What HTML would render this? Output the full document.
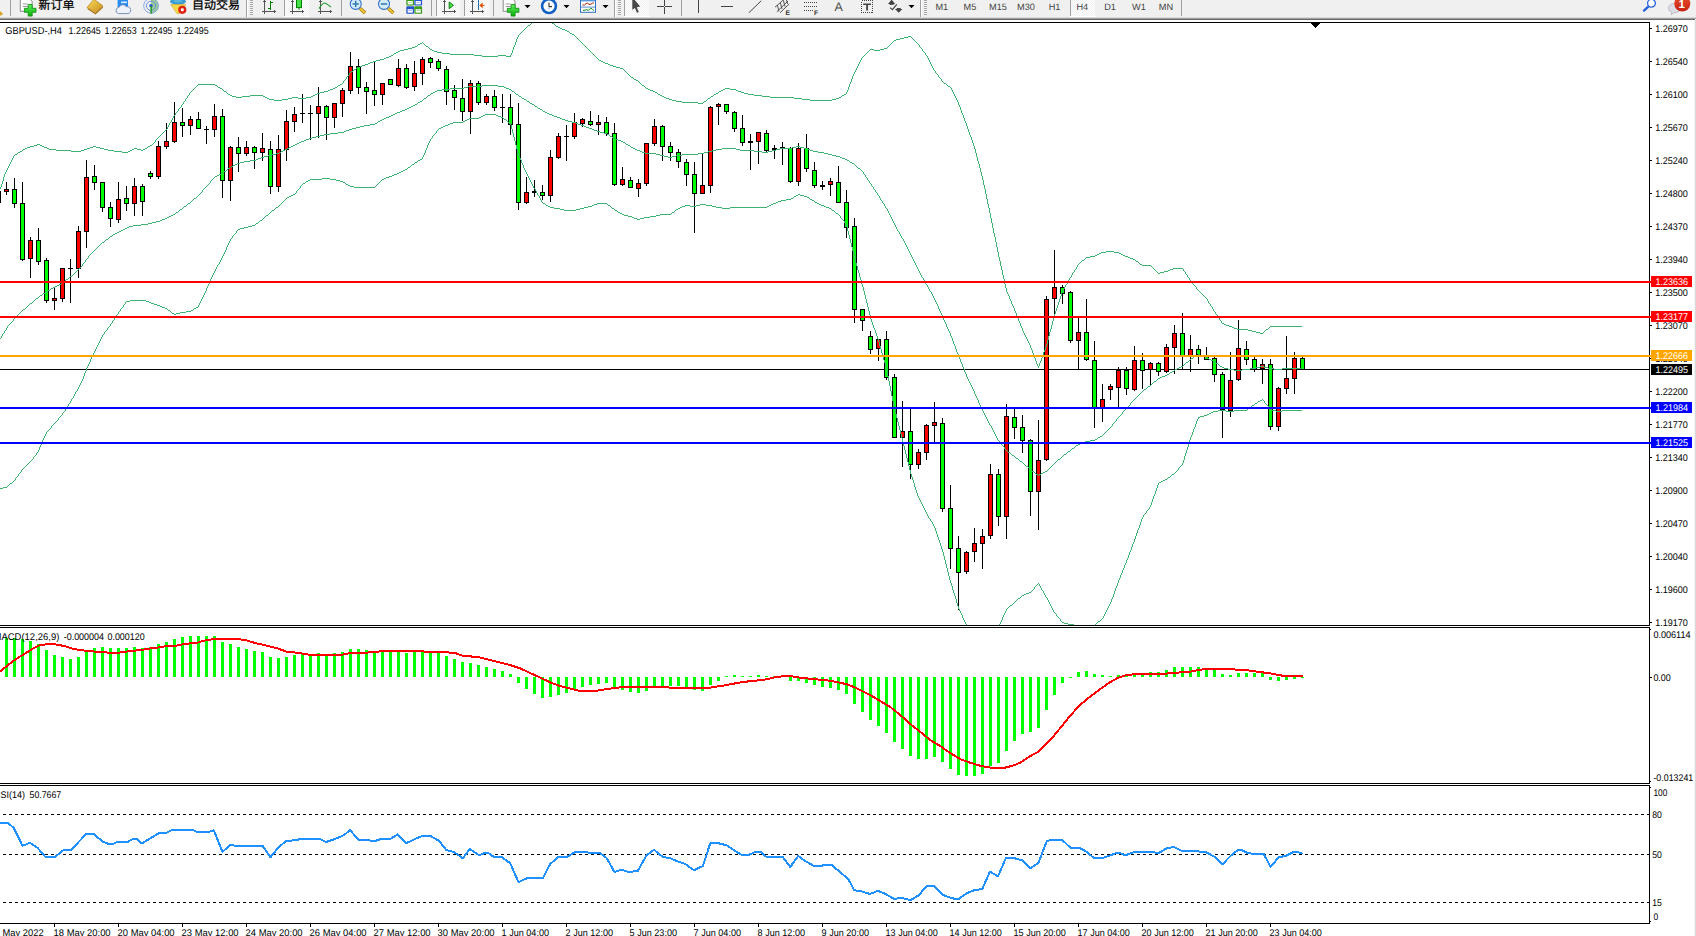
<!DOCTYPE html>
<html><head><meta charset="utf-8"><title>GBPUSD-,H4</title>
<style>
html,body{margin:0;padding:0;background:#fff;width:1696px;height:936px;overflow:hidden}
svg{display:block;position:absolute;left:0;top:0}
text{font-family:"Liberation Sans", "Noto Sans CJK SC", sans-serif;text-rendering:geometricPrecision}
</style></head><body>
<svg width="1696" height="936" viewBox="0 0 1696 936">
<rect x="0" y="0" width="1696" height="936" fill="#fff"/>
<g shape-rendering="crispEdges">
<rect x="0" y="22" width="1650" height="1" fill="#000"/>
<rect x="0" y="625" width="1650" height="1" fill="#000"/>
<rect x="0" y="627" width="1650" height="1" fill="#000"/>
<rect x="0" y="783" width="1650" height="1" fill="#000"/>
<rect x="0" y="785" width="1650" height="1" fill="#000"/>
<rect x="0" y="923" width="1650" height="1" fill="#000"/>
<rect x="1649" y="22" width="1" height="604" fill="#000"/>
<rect x="1649" y="627" width="1" height="157" fill="#000"/>
<rect x="1649" y="785" width="1" height="139" fill="#000"/>
<rect x="1695" y="20" width="1" height="916" fill="#d9d9d9"/>
<rect x="1694" y="20" width="1" height="916" fill="#f4f4f4"/>
</g>
<defs><clipPath id="cm"><rect x="0" y="23" width="1649" height="602"/></clipPath><clipPath id="cd"><rect x="0" y="628" width="1649" height="155"/></clipPath><clipPath id="cr"><rect x="0" y="786" width="1649" height="137"/></clipPath></defs>
<rect x="0" y="369" width="1649" height="1" fill="#000" shape-rendering="crispEdges"/>
<g shape-rendering="crispEdges" clip-path="url(#cm)">
<rect x="0" y="191" width="1" height="12" fill="#000"/>
<rect x="6" y="182" width="1" height="13" fill="#000"/>
<rect x="4" y="189" width="5" height="3" fill="#000"/>
<rect x="5" y="190" width="3" height="1" fill="#ff0000"/>
<rect x="14" y="178" width="1" height="30" fill="#000"/>
<rect x="12" y="189" width="5" height="15" fill="#000"/>
<rect x="13" y="190" width="3" height="13" fill="#00ff00"/>
<rect x="22" y="182" width="1" height="79" fill="#000"/>
<rect x="20" y="203" width="5" height="57" fill="#000"/>
<rect x="21" y="204" width="3" height="55" fill="#00ff00"/>
<rect x="30" y="237" width="1" height="41" fill="#000"/>
<rect x="28" y="240" width="5" height="19" fill="#000"/>
<rect x="29" y="241" width="3" height="17" fill="#ff0000"/>
<rect x="38" y="228" width="1" height="37" fill="#000"/>
<rect x="36" y="240" width="5" height="22" fill="#000"/>
<rect x="37" y="241" width="3" height="20" fill="#00ff00"/>
<rect x="46" y="258" width="1" height="45" fill="#000"/>
<rect x="44" y="260" width="5" height="41" fill="#000"/>
<rect x="45" y="261" width="3" height="39" fill="#00ff00"/>
<rect x="54" y="288" width="1" height="22" fill="#000"/>
<rect x="52" y="298" width="5" height="3" fill="#000"/>
<rect x="53" y="299" width="3" height="1" fill="#ff0000"/>
<rect x="62" y="268" width="1" height="34" fill="#000"/>
<rect x="60" y="268" width="5" height="31" fill="#000"/>
<rect x="61" y="269" width="3" height="29" fill="#ff0000"/>
<rect x="70" y="259" width="1" height="44" fill="#000"/>
<rect x="68" y="268" width="5" height="1" fill="#000"/>
<rect x="78" y="226" width="1" height="52" fill="#000"/>
<rect x="76" y="231" width="5" height="38" fill="#000"/>
<rect x="77" y="232" width="3" height="36" fill="#ff0000"/>
<rect x="86" y="160" width="1" height="88" fill="#000"/>
<rect x="84" y="177" width="5" height="55" fill="#000"/>
<rect x="85" y="178" width="3" height="53" fill="#ff0000"/>
<rect x="94" y="165" width="1" height="25" fill="#000"/>
<rect x="92" y="176" width="5" height="7" fill="#000"/>
<rect x="93" y="177" width="3" height="5" fill="#00ff00"/>
<rect x="102" y="182" width="1" height="30" fill="#000"/>
<rect x="100" y="182" width="5" height="26" fill="#000"/>
<rect x="101" y="183" width="3" height="24" fill="#00ff00"/>
<rect x="110" y="202" width="1" height="25" fill="#000"/>
<rect x="108" y="207" width="5" height="12" fill="#000"/>
<rect x="109" y="208" width="3" height="10" fill="#00ff00"/>
<rect x="118" y="182" width="1" height="41" fill="#000"/>
<rect x="116" y="199" width="5" height="21" fill="#000"/>
<rect x="117" y="200" width="3" height="19" fill="#ff0000"/>
<rect x="126" y="186" width="1" height="25" fill="#000"/>
<rect x="124" y="198" width="5" height="6" fill="#000"/>
<rect x="125" y="199" width="3" height="4" fill="#00ff00"/>
<rect x="134" y="178" width="1" height="38" fill="#000"/>
<rect x="132" y="186" width="5" height="18" fill="#000"/>
<rect x="133" y="187" width="3" height="16" fill="#ff0000"/>
<rect x="142" y="184" width="1" height="32" fill="#000"/>
<rect x="140" y="186" width="5" height="16" fill="#000"/>
<rect x="141" y="187" width="3" height="14" fill="#00ff00"/>
<rect x="150" y="171" width="1" height="8" fill="#000"/>
<rect x="148" y="173" width="5" height="4" fill="#000"/>
<rect x="149" y="174" width="3" height="2" fill="#00ff00"/>
<rect x="158" y="141" width="1" height="38" fill="#000"/>
<rect x="156" y="146" width="5" height="31" fill="#000"/>
<rect x="157" y="147" width="3" height="29" fill="#ff0000"/>
<rect x="166" y="123" width="1" height="26" fill="#000"/>
<rect x="164" y="141" width="5" height="6" fill="#000"/>
<rect x="165" y="142" width="3" height="4" fill="#ff0000"/>
<rect x="174" y="102" width="1" height="41" fill="#000"/>
<rect x="172" y="122" width="5" height="20" fill="#000"/>
<rect x="173" y="123" width="3" height="18" fill="#ff0000"/>
<rect x="182" y="108" width="1" height="29" fill="#000"/>
<rect x="180" y="122" width="5" height="4" fill="#000"/>
<rect x="181" y="123" width="3" height="2" fill="#00ff00"/>
<rect x="190" y="116" width="1" height="19" fill="#000"/>
<rect x="188" y="119" width="5" height="7" fill="#000"/>
<rect x="189" y="120" width="3" height="5" fill="#ff0000"/>
<rect x="198" y="112" width="1" height="17" fill="#000"/>
<rect x="196" y="119" width="5" height="10" fill="#000"/>
<rect x="197" y="120" width="3" height="8" fill="#00ff00"/>
<rect x="206" y="126" width="1" height="18" fill="#000"/>
<rect x="204" y="129" width="5" height="1" fill="#000"/>
<rect x="214" y="104" width="1" height="33" fill="#000"/>
<rect x="212" y="116" width="5" height="14" fill="#000"/>
<rect x="213" y="117" width="3" height="12" fill="#ff0000"/>
<rect x="222" y="109" width="1" height="89" fill="#000"/>
<rect x="220" y="116" width="5" height="65" fill="#000"/>
<rect x="221" y="117" width="3" height="63" fill="#00ff00"/>
<rect x="230" y="146" width="1" height="55" fill="#000"/>
<rect x="228" y="147" width="5" height="34" fill="#000"/>
<rect x="229" y="148" width="3" height="32" fill="#ff0000"/>
<rect x="238" y="137" width="1" height="35" fill="#000"/>
<rect x="236" y="147" width="5" height="7" fill="#000"/>
<rect x="237" y="148" width="3" height="5" fill="#00ff00"/>
<rect x="246" y="141" width="1" height="15" fill="#000"/>
<rect x="244" y="147" width="5" height="7" fill="#000"/>
<rect x="245" y="148" width="3" height="5" fill="#ff0000"/>
<rect x="254" y="146" width="1" height="23" fill="#000"/>
<rect x="252" y="147" width="5" height="6" fill="#000"/>
<rect x="253" y="148" width="3" height="4" fill="#00ff00"/>
<rect x="262" y="133" width="1" height="28" fill="#000"/>
<rect x="260" y="148" width="5" height="5" fill="#000"/>
<rect x="261" y="149" width="3" height="3" fill="#ff0000"/>
<rect x="270" y="141" width="1" height="53" fill="#000"/>
<rect x="268" y="149" width="5" height="38" fill="#000"/>
<rect x="269" y="150" width="3" height="36" fill="#00ff00"/>
<rect x="278" y="135" width="1" height="57" fill="#000"/>
<rect x="276" y="149" width="5" height="38" fill="#000"/>
<rect x="277" y="150" width="3" height="36" fill="#ff0000"/>
<rect x="286" y="110" width="1" height="51" fill="#000"/>
<rect x="284" y="121" width="5" height="29" fill="#000"/>
<rect x="285" y="122" width="3" height="27" fill="#ff0000"/>
<rect x="294" y="107" width="1" height="25" fill="#000"/>
<rect x="292" y="114" width="5" height="8" fill="#000"/>
<rect x="293" y="115" width="3" height="6" fill="#ff0000"/>
<rect x="302" y="94" width="1" height="29" fill="#000"/>
<rect x="300" y="113" width="5" height="1" fill="#000"/>
<rect x="310" y="105" width="1" height="35" fill="#000"/>
<rect x="308" y="113" width="5" height="1" fill="#000"/>
<rect x="318" y="87" width="1" height="51" fill="#000"/>
<rect x="316" y="106" width="5" height="8" fill="#000"/>
<rect x="317" y="107" width="3" height="6" fill="#ff0000"/>
<rect x="326" y="105" width="1" height="35" fill="#000"/>
<rect x="324" y="106" width="5" height="12" fill="#000"/>
<rect x="325" y="107" width="3" height="10" fill="#00ff00"/>
<rect x="334" y="103" width="1" height="25" fill="#000"/>
<rect x="332" y="103" width="5" height="15" fill="#000"/>
<rect x="333" y="104" width="3" height="13" fill="#ff0000"/>
<rect x="342" y="88" width="1" height="29" fill="#000"/>
<rect x="340" y="90" width="5" height="14" fill="#000"/>
<rect x="341" y="91" width="3" height="12" fill="#ff0000"/>
<rect x="350" y="52" width="1" height="42" fill="#000"/>
<rect x="348" y="66" width="5" height="25" fill="#000"/>
<rect x="349" y="67" width="3" height="23" fill="#ff0000"/>
<rect x="358" y="59" width="1" height="35" fill="#000"/>
<rect x="356" y="66" width="5" height="22" fill="#000"/>
<rect x="357" y="67" width="3" height="20" fill="#00ff00"/>
<rect x="366" y="82" width="1" height="32" fill="#000"/>
<rect x="364" y="87" width="5" height="5" fill="#000"/>
<rect x="365" y="88" width="3" height="3" fill="#00ff00"/>
<rect x="374" y="62" width="1" height="44" fill="#000"/>
<rect x="372" y="90" width="5" height="5" fill="#000"/>
<rect x="373" y="91" width="3" height="3" fill="#00ff00"/>
<rect x="382" y="83" width="1" height="22" fill="#000"/>
<rect x="380" y="83" width="5" height="12" fill="#000"/>
<rect x="381" y="84" width="3" height="10" fill="#ff0000"/>
<rect x="390" y="79" width="1" height="6" fill="#000"/>
<rect x="388" y="79" width="5" height="6" fill="#000"/>
<rect x="389" y="80" width="3" height="4" fill="#00ff00"/>
<rect x="398" y="59" width="1" height="28" fill="#000"/>
<rect x="396" y="68" width="5" height="18" fill="#000"/>
<rect x="397" y="69" width="3" height="16" fill="#ff0000"/>
<rect x="406" y="64" width="1" height="25" fill="#000"/>
<rect x="404" y="68" width="5" height="20" fill="#000"/>
<rect x="405" y="69" width="3" height="18" fill="#00ff00"/>
<rect x="414" y="61" width="1" height="30" fill="#000"/>
<rect x="412" y="73" width="5" height="14" fill="#000"/>
<rect x="413" y="74" width="3" height="12" fill="#ff0000"/>
<rect x="422" y="57" width="1" height="28" fill="#000"/>
<rect x="420" y="59" width="5" height="15" fill="#000"/>
<rect x="421" y="60" width="3" height="13" fill="#ff0000"/>
<rect x="430" y="57" width="1" height="11" fill="#000"/>
<rect x="428" y="58" width="5" height="5" fill="#000"/>
<rect x="429" y="59" width="3" height="3" fill="#00ff00"/>
<rect x="438" y="59" width="1" height="12" fill="#000"/>
<rect x="436" y="61" width="5" height="8" fill="#000"/>
<rect x="437" y="62" width="3" height="6" fill="#00ff00"/>
<rect x="446" y="66" width="1" height="39" fill="#000"/>
<rect x="444" y="69" width="5" height="23" fill="#000"/>
<rect x="445" y="70" width="3" height="21" fill="#00ff00"/>
<rect x="454" y="85" width="1" height="25" fill="#000"/>
<rect x="452" y="90" width="5" height="8" fill="#000"/>
<rect x="453" y="91" width="3" height="6" fill="#00ff00"/>
<rect x="462" y="79" width="1" height="42" fill="#000"/>
<rect x="460" y="98" width="5" height="14" fill="#000"/>
<rect x="461" y="99" width="3" height="12" fill="#00ff00"/>
<rect x="470" y="80" width="1" height="54" fill="#000"/>
<rect x="468" y="83" width="5" height="29" fill="#000"/>
<rect x="469" y="84" width="3" height="27" fill="#ff0000"/>
<rect x="478" y="81" width="1" height="24" fill="#000"/>
<rect x="476" y="83" width="5" height="20" fill="#000"/>
<rect x="477" y="84" width="3" height="18" fill="#00ff00"/>
<rect x="486" y="94" width="1" height="11" fill="#000"/>
<rect x="484" y="96" width="5" height="7" fill="#000"/>
<rect x="485" y="97" width="3" height="5" fill="#ff0000"/>
<rect x="494" y="90" width="1" height="21" fill="#000"/>
<rect x="492" y="96" width="5" height="12" fill="#000"/>
<rect x="493" y="97" width="3" height="10" fill="#00ff00"/>
<rect x="502" y="94" width="1" height="29" fill="#000"/>
<rect x="500" y="107" width="5" height="1" fill="#000"/>
<rect x="510" y="94" width="1" height="41" fill="#000"/>
<rect x="508" y="107" width="5" height="18" fill="#000"/>
<rect x="509" y="108" width="3" height="16" fill="#00ff00"/>
<rect x="518" y="103" width="1" height="107" fill="#000"/>
<rect x="516" y="124" width="5" height="79" fill="#000"/>
<rect x="517" y="125" width="3" height="77" fill="#00ff00"/>
<rect x="526" y="177" width="1" height="27" fill="#000"/>
<rect x="524" y="192" width="5" height="11" fill="#000"/>
<rect x="525" y="193" width="3" height="9" fill="#ff0000"/>
<rect x="534" y="180" width="1" height="17" fill="#000"/>
<rect x="532" y="191" width="5" height="2" fill="#000"/>
<rect x="542" y="185" width="1" height="15" fill="#000"/>
<rect x="540" y="192" width="5" height="4" fill="#000"/>
<rect x="541" y="193" width="3" height="2" fill="#00ff00"/>
<rect x="550" y="150" width="1" height="52" fill="#000"/>
<rect x="548" y="157" width="5" height="39" fill="#000"/>
<rect x="549" y="158" width="3" height="37" fill="#ff0000"/>
<rect x="558" y="133" width="1" height="26" fill="#000"/>
<rect x="556" y="136" width="5" height="22" fill="#000"/>
<rect x="557" y="137" width="3" height="20" fill="#ff0000"/>
<rect x="566" y="125" width="1" height="36" fill="#000"/>
<rect x="564" y="136" width="5" height="1" fill="#000"/>
<rect x="574" y="113" width="1" height="26" fill="#000"/>
<rect x="572" y="122" width="5" height="15" fill="#000"/>
<rect x="573" y="123" width="3" height="13" fill="#ff0000"/>
<rect x="582" y="118" width="1" height="9" fill="#000"/>
<rect x="580" y="119" width="5" height="5" fill="#000"/>
<rect x="581" y="120" width="3" height="3" fill="#ff0000"/>
<rect x="590" y="111" width="1" height="15" fill="#000"/>
<rect x="588" y="121" width="5" height="4" fill="#000"/>
<rect x="589" y="122" width="3" height="2" fill="#00ff00"/>
<rect x="598" y="115" width="1" height="20" fill="#000"/>
<rect x="596" y="122" width="5" height="3" fill="#000"/>
<rect x="597" y="123" width="3" height="1" fill="#ff0000"/>
<rect x="606" y="117" width="1" height="19" fill="#000"/>
<rect x="604" y="122" width="5" height="12" fill="#000"/>
<rect x="605" y="123" width="3" height="10" fill="#00ff00"/>
<rect x="614" y="123" width="1" height="63" fill="#000"/>
<rect x="612" y="133" width="5" height="52" fill="#000"/>
<rect x="613" y="134" width="3" height="50" fill="#00ff00"/>
<rect x="622" y="167" width="1" height="19" fill="#000"/>
<rect x="620" y="179" width="5" height="6" fill="#000"/>
<rect x="621" y="180" width="3" height="4" fill="#ff0000"/>
<rect x="630" y="177" width="1" height="11" fill="#000"/>
<rect x="628" y="180" width="5" height="8" fill="#000"/>
<rect x="629" y="181" width="3" height="6" fill="#00ff00"/>
<rect x="638" y="179" width="1" height="18" fill="#000"/>
<rect x="636" y="183" width="5" height="6" fill="#000"/>
<rect x="637" y="184" width="3" height="4" fill="#ff0000"/>
<rect x="646" y="143" width="1" height="43" fill="#000"/>
<rect x="644" y="143" width="5" height="41" fill="#000"/>
<rect x="645" y="144" width="3" height="39" fill="#ff0000"/>
<rect x="654" y="119" width="1" height="27" fill="#000"/>
<rect x="652" y="126" width="5" height="18" fill="#000"/>
<rect x="653" y="127" width="3" height="16" fill="#ff0000"/>
<rect x="662" y="125" width="1" height="36" fill="#000"/>
<rect x="660" y="126" width="5" height="21" fill="#000"/>
<rect x="661" y="127" width="3" height="19" fill="#00ff00"/>
<rect x="670" y="142" width="1" height="19" fill="#000"/>
<rect x="668" y="146" width="5" height="7" fill="#000"/>
<rect x="669" y="147" width="3" height="5" fill="#00ff00"/>
<rect x="678" y="149" width="1" height="19" fill="#000"/>
<rect x="676" y="152" width="5" height="10" fill="#000"/>
<rect x="677" y="153" width="3" height="8" fill="#00ff00"/>
<rect x="686" y="159" width="1" height="27" fill="#000"/>
<rect x="684" y="162" width="5" height="13" fill="#000"/>
<rect x="685" y="163" width="3" height="11" fill="#00ff00"/>
<rect x="694" y="162" width="1" height="71" fill="#000"/>
<rect x="692" y="174" width="5" height="20" fill="#000"/>
<rect x="693" y="175" width="3" height="18" fill="#00ff00"/>
<rect x="702" y="153" width="1" height="41" fill="#000"/>
<rect x="700" y="185" width="5" height="9" fill="#000"/>
<rect x="701" y="186" width="3" height="7" fill="#ff0000"/>
<rect x="710" y="106" width="1" height="87" fill="#000"/>
<rect x="708" y="107" width="5" height="79" fill="#000"/>
<rect x="709" y="108" width="3" height="77" fill="#ff0000"/>
<rect x="718" y="103" width="1" height="22" fill="#000"/>
<rect x="716" y="104" width="5" height="3" fill="#000"/>
<rect x="717" y="105" width="3" height="1" fill="#ff0000"/>
<rect x="726" y="104" width="1" height="10" fill="#000"/>
<rect x="724" y="104" width="5" height="8" fill="#000"/>
<rect x="725" y="105" width="3" height="6" fill="#00ff00"/>
<rect x="734" y="111" width="1" height="21" fill="#000"/>
<rect x="732" y="112" width="5" height="17" fill="#000"/>
<rect x="733" y="113" width="3" height="15" fill="#00ff00"/>
<rect x="742" y="115" width="1" height="31" fill="#000"/>
<rect x="740" y="128" width="5" height="15" fill="#000"/>
<rect x="741" y="129" width="3" height="13" fill="#00ff00"/>
<rect x="750" y="134" width="1" height="36" fill="#000"/>
<rect x="748" y="141" width="5" height="2" fill="#000"/>
<rect x="758" y="132" width="1" height="32" fill="#000"/>
<rect x="756" y="132" width="5" height="10" fill="#000"/>
<rect x="757" y="133" width="3" height="8" fill="#ff0000"/>
<rect x="766" y="130" width="1" height="23" fill="#000"/>
<rect x="764" y="133" width="5" height="18" fill="#000"/>
<rect x="765" y="134" width="3" height="16" fill="#00ff00"/>
<rect x="774" y="145" width="1" height="14" fill="#000"/>
<rect x="772" y="148" width="5" height="2" fill="#000"/>
<rect x="782" y="142" width="1" height="23" fill="#000"/>
<rect x="780" y="147" width="5" height="1" fill="#000"/>
<rect x="790" y="147" width="1" height="36" fill="#000"/>
<rect x="788" y="148" width="5" height="34" fill="#000"/>
<rect x="789" y="149" width="3" height="32" fill="#00ff00"/>
<rect x="798" y="143" width="1" height="43" fill="#000"/>
<rect x="796" y="148" width="5" height="34" fill="#000"/>
<rect x="797" y="149" width="3" height="32" fill="#ff0000"/>
<rect x="806" y="134" width="1" height="38" fill="#000"/>
<rect x="804" y="148" width="5" height="21" fill="#000"/>
<rect x="805" y="149" width="3" height="19" fill="#00ff00"/>
<rect x="814" y="162" width="1" height="26" fill="#000"/>
<rect x="812" y="170" width="5" height="16" fill="#000"/>
<rect x="813" y="171" width="3" height="14" fill="#00ff00"/>
<rect x="822" y="181" width="1" height="9" fill="#000"/>
<rect x="820" y="185" width="5" height="2" fill="#000"/>
<rect x="830" y="178" width="1" height="18" fill="#000"/>
<rect x="828" y="181" width="5" height="4" fill="#000"/>
<rect x="829" y="182" width="3" height="2" fill="#ff0000"/>
<rect x="838" y="166" width="1" height="37" fill="#000"/>
<rect x="836" y="182" width="5" height="21" fill="#000"/>
<rect x="837" y="183" width="3" height="19" fill="#00ff00"/>
<rect x="846" y="190" width="1" height="48" fill="#000"/>
<rect x="844" y="202" width="5" height="26" fill="#000"/>
<rect x="845" y="203" width="3" height="24" fill="#00ff00"/>
<rect x="854" y="218" width="1" height="105" fill="#000"/>
<rect x="852" y="226" width="5" height="84" fill="#000"/>
<rect x="853" y="227" width="3" height="82" fill="#00ff00"/>
<rect x="862" y="309" width="1" height="22" fill="#000"/>
<rect x="860" y="309" width="5" height="12" fill="#000"/>
<rect x="861" y="310" width="3" height="10" fill="#00ff00"/>
<rect x="870" y="331" width="1" height="23" fill="#000"/>
<rect x="868" y="336" width="5" height="14" fill="#000"/>
<rect x="869" y="337" width="3" height="12" fill="#00ff00"/>
<rect x="878" y="339" width="1" height="22" fill="#000"/>
<rect x="876" y="339" width="5" height="10" fill="#000"/>
<rect x="877" y="340" width="3" height="8" fill="#ff0000"/>
<rect x="886" y="331" width="1" height="49" fill="#000"/>
<rect x="884" y="339" width="5" height="39" fill="#000"/>
<rect x="885" y="340" width="3" height="37" fill="#00ff00"/>
<rect x="894" y="374" width="1" height="64" fill="#000"/>
<rect x="892" y="377" width="5" height="61" fill="#000"/>
<rect x="893" y="378" width="3" height="59" fill="#00ff00"/>
<rect x="902" y="401" width="1" height="66" fill="#000"/>
<rect x="900" y="431" width="5" height="7" fill="#000"/>
<rect x="901" y="432" width="3" height="5" fill="#ff0000"/>
<rect x="910" y="408" width="1" height="71" fill="#000"/>
<rect x="908" y="431" width="5" height="34" fill="#000"/>
<rect x="909" y="432" width="3" height="32" fill="#00ff00"/>
<rect x="918" y="449" width="1" height="20" fill="#000"/>
<rect x="916" y="452" width="5" height="13" fill="#000"/>
<rect x="917" y="453" width="3" height="11" fill="#ff0000"/>
<rect x="926" y="424" width="1" height="36" fill="#000"/>
<rect x="924" y="425" width="5" height="28" fill="#000"/>
<rect x="925" y="426" width="3" height="26" fill="#ff0000"/>
<rect x="934" y="402" width="1" height="40" fill="#000"/>
<rect x="932" y="422" width="5" height="4" fill="#000"/>
<rect x="933" y="423" width="3" height="2" fill="#ff0000"/>
<rect x="942" y="418" width="1" height="94" fill="#000"/>
<rect x="940" y="423" width="5" height="86" fill="#000"/>
<rect x="941" y="424" width="3" height="84" fill="#00ff00"/>
<rect x="950" y="485" width="1" height="84" fill="#000"/>
<rect x="948" y="508" width="5" height="41" fill="#000"/>
<rect x="949" y="509" width="3" height="39" fill="#00ff00"/>
<rect x="958" y="536" width="1" height="74" fill="#000"/>
<rect x="956" y="548" width="5" height="25" fill="#000"/>
<rect x="957" y="549" width="3" height="23" fill="#00ff00"/>
<rect x="966" y="551" width="1" height="23" fill="#000"/>
<rect x="964" y="552" width="5" height="20" fill="#000"/>
<rect x="965" y="553" width="3" height="18" fill="#ff0000"/>
<rect x="974" y="528" width="1" height="34" fill="#000"/>
<rect x="972" y="543" width="5" height="9" fill="#000"/>
<rect x="973" y="544" width="3" height="7" fill="#ff0000"/>
<rect x="982" y="529" width="1" height="40" fill="#000"/>
<rect x="980" y="536" width="5" height="8" fill="#000"/>
<rect x="981" y="537" width="3" height="6" fill="#ff0000"/>
<rect x="990" y="464" width="1" height="75" fill="#000"/>
<rect x="988" y="474" width="5" height="62" fill="#000"/>
<rect x="989" y="475" width="3" height="60" fill="#ff0000"/>
<rect x="998" y="469" width="1" height="57" fill="#000"/>
<rect x="996" y="474" width="5" height="43" fill="#000"/>
<rect x="997" y="475" width="3" height="41" fill="#00ff00"/>
<rect x="1006" y="404" width="1" height="135" fill="#000"/>
<rect x="1004" y="416" width="5" height="101" fill="#000"/>
<rect x="1005" y="417" width="3" height="99" fill="#ff0000"/>
<rect x="1014" y="408" width="1" height="31" fill="#000"/>
<rect x="1012" y="417" width="5" height="11" fill="#000"/>
<rect x="1013" y="418" width="3" height="9" fill="#00ff00"/>
<rect x="1022" y="415" width="1" height="38" fill="#000"/>
<rect x="1020" y="427" width="5" height="14" fill="#000"/>
<rect x="1021" y="428" width="3" height="12" fill="#00ff00"/>
<rect x="1030" y="439" width="1" height="77" fill="#000"/>
<rect x="1028" y="440" width="5" height="52" fill="#000"/>
<rect x="1029" y="441" width="3" height="50" fill="#00ff00"/>
<rect x="1038" y="420" width="1" height="110" fill="#000"/>
<rect x="1036" y="460" width="5" height="32" fill="#000"/>
<rect x="1037" y="461" width="3" height="30" fill="#ff0000"/>
<rect x="1046" y="296" width="1" height="165" fill="#000"/>
<rect x="1044" y="299" width="5" height="161" fill="#000"/>
<rect x="1045" y="300" width="3" height="159" fill="#ff0000"/>
<rect x="1054" y="250" width="1" height="64" fill="#000"/>
<rect x="1052" y="287" width="5" height="12" fill="#000"/>
<rect x="1053" y="288" width="3" height="10" fill="#ff0000"/>
<rect x="1062" y="285" width="1" height="19" fill="#000"/>
<rect x="1060" y="287" width="5" height="7" fill="#000"/>
<rect x="1061" y="288" width="3" height="5" fill="#00ff00"/>
<rect x="1070" y="291" width="1" height="52" fill="#000"/>
<rect x="1068" y="292" width="5" height="49" fill="#000"/>
<rect x="1069" y="293" width="3" height="47" fill="#00ff00"/>
<rect x="1078" y="318" width="1" height="51" fill="#000"/>
<rect x="1076" y="332" width="5" height="9" fill="#000"/>
<rect x="1077" y="333" width="3" height="7" fill="#ff0000"/>
<rect x="1086" y="299" width="1" height="62" fill="#000"/>
<rect x="1084" y="332" width="5" height="28" fill="#000"/>
<rect x="1085" y="333" width="3" height="26" fill="#00ff00"/>
<rect x="1094" y="341" width="1" height="87" fill="#000"/>
<rect x="1092" y="360" width="5" height="48" fill="#000"/>
<rect x="1093" y="361" width="3" height="46" fill="#00ff00"/>
<rect x="1102" y="384" width="1" height="38" fill="#000"/>
<rect x="1100" y="399" width="5" height="10" fill="#000"/>
<rect x="1101" y="400" width="3" height="8" fill="#ff0000"/>
<rect x="1110" y="384" width="1" height="16" fill="#000"/>
<rect x="1108" y="386" width="5" height="4" fill="#000"/>
<rect x="1109" y="387" width="3" height="2" fill="#ff0000"/>
<rect x="1118" y="367" width="1" height="41" fill="#000"/>
<rect x="1116" y="370" width="5" height="18" fill="#000"/>
<rect x="1117" y="371" width="3" height="16" fill="#ff0000"/>
<rect x="1126" y="367" width="1" height="28" fill="#000"/>
<rect x="1124" y="370" width="5" height="19" fill="#000"/>
<rect x="1125" y="371" width="3" height="17" fill="#00ff00"/>
<rect x="1134" y="346" width="1" height="45" fill="#000"/>
<rect x="1132" y="360" width="5" height="30" fill="#000"/>
<rect x="1133" y="361" width="3" height="28" fill="#ff0000"/>
<rect x="1142" y="353" width="1" height="36" fill="#000"/>
<rect x="1140" y="360" width="5" height="11" fill="#000"/>
<rect x="1141" y="361" width="3" height="9" fill="#00ff00"/>
<rect x="1150" y="362" width="1" height="23" fill="#000"/>
<rect x="1148" y="363" width="5" height="7" fill="#000"/>
<rect x="1149" y="364" width="3" height="5" fill="#ff0000"/>
<rect x="1158" y="362" width="1" height="14" fill="#000"/>
<rect x="1156" y="363" width="5" height="9" fill="#000"/>
<rect x="1157" y="364" width="3" height="7" fill="#00ff00"/>
<rect x="1166" y="344" width="1" height="29" fill="#000"/>
<rect x="1164" y="347" width="5" height="25" fill="#000"/>
<rect x="1165" y="348" width="3" height="23" fill="#ff0000"/>
<rect x="1174" y="325" width="1" height="49" fill="#000"/>
<rect x="1172" y="333" width="5" height="15" fill="#000"/>
<rect x="1173" y="334" width="3" height="13" fill="#ff0000"/>
<rect x="1182" y="313" width="1" height="57" fill="#000"/>
<rect x="1180" y="333" width="5" height="24" fill="#000"/>
<rect x="1181" y="334" width="3" height="22" fill="#00ff00"/>
<rect x="1190" y="335" width="1" height="37" fill="#000"/>
<rect x="1188" y="349" width="5" height="8" fill="#000"/>
<rect x="1189" y="350" width="3" height="6" fill="#ff0000"/>
<rect x="1198" y="345" width="1" height="19" fill="#000"/>
<rect x="1196" y="349" width="5" height="6" fill="#000"/>
<rect x="1197" y="350" width="3" height="4" fill="#00ff00"/>
<rect x="1206" y="347" width="1" height="13" fill="#000"/>
<rect x="1204" y="356" width="5" height="4" fill="#000"/>
<rect x="1205" y="357" width="3" height="2" fill="#00ff00"/>
<rect x="1214" y="357" width="1" height="25" fill="#000"/>
<rect x="1212" y="358" width="5" height="17" fill="#000"/>
<rect x="1213" y="359" width="3" height="15" fill="#00ff00"/>
<rect x="1222" y="372" width="1" height="66" fill="#000"/>
<rect x="1220" y="374" width="5" height="36" fill="#000"/>
<rect x="1221" y="375" width="3" height="34" fill="#00ff00"/>
<rect x="1230" y="352" width="1" height="65" fill="#000"/>
<rect x="1228" y="380" width="5" height="31" fill="#000"/>
<rect x="1229" y="381" width="3" height="29" fill="#ff0000"/>
<rect x="1238" y="320" width="1" height="61" fill="#000"/>
<rect x="1236" y="348" width="5" height="32" fill="#000"/>
<rect x="1237" y="349" width="3" height="30" fill="#ff0000"/>
<rect x="1246" y="341" width="1" height="24" fill="#000"/>
<rect x="1244" y="349" width="5" height="11" fill="#000"/>
<rect x="1245" y="350" width="3" height="9" fill="#00ff00"/>
<rect x="1254" y="357" width="1" height="15" fill="#000"/>
<rect x="1252" y="359" width="5" height="10" fill="#000"/>
<rect x="1253" y="360" width="3" height="8" fill="#00ff00"/>
<rect x="1262" y="359" width="1" height="25" fill="#000"/>
<rect x="1260" y="364" width="5" height="5" fill="#000"/>
<rect x="1261" y="365" width="3" height="3" fill="#ff0000"/>
<rect x="1270" y="359" width="1" height="71" fill="#000"/>
<rect x="1268" y="364" width="5" height="63" fill="#000"/>
<rect x="1269" y="365" width="3" height="61" fill="#00ff00"/>
<rect x="1278" y="387" width="1" height="44" fill="#000"/>
<rect x="1276" y="388" width="5" height="39" fill="#000"/>
<rect x="1277" y="389" width="3" height="37" fill="#ff0000"/>
<rect x="1286" y="336" width="1" height="58" fill="#000"/>
<rect x="1284" y="378" width="5" height="11" fill="#000"/>
<rect x="1285" y="379" width="3" height="9" fill="#ff0000"/>
<rect x="1294" y="352" width="1" height="42" fill="#000"/>
<rect x="1292" y="358" width="5" height="21" fill="#000"/>
<rect x="1293" y="359" width="3" height="19" fill="#ff0000"/>
<rect x="1302" y="357" width="1" height="13" fill="#000"/>
<rect x="1300" y="358" width="5" height="12" fill="#000"/>
<rect x="1301" y="359" width="3" height="10" fill="#00ff00"/>
</g>
<path d="M552 23h2v1h-2zM528 25h2v1h-2zM556 26h2v1h-2zM558 27h2v1h-2zM560 28h2v1h-2zM562 29h3v1h-3zM565 30h2v1h-2zM567 31h2v1h-2zM570 33h2v1h-2zM572 34h2v1h-2zM908 36h3v1h-3zM904 37h4v1h-4zM900 38h4v1h-4zM896 39h4v1h-4zM894 40h2v1h-2zM420 43h2v1h-2zM418 44h2v1h-2zM415 46h2v1h-2zM426 46h2v1h-2zM412 47h3v1h-3zM408 48h4v1h-4zM884 48h3v1h-3zM404 49h4v1h-4zM430 49h2v1h-2zM870 49h4v1h-4zM880 49h4v1h-4zM400 50h4v1h-4zM432 50h2v1h-2zM874 50h6v1h-6zM398 51h2v1h-2zM434 51h3v1h-3zM396 52h2v1h-2zM437 52h5v1h-5zM394 53h2v1h-2zM442 53h8v1h-8zM450 54h24v1h-24zM391 55h2v1h-2zM474 55h8v1h-8zM498 55h8v1h-8zM389 56h2v1h-2zM482 56h16v1h-16zM506 56h5v1h-5zM386 57h3v1h-3zM384 58h2v1h-2zM380 59h4v1h-4zM376 60h4v1h-4zM599 60h2v1h-2zM373 61h3v1h-3zM601 61h2v1h-2zM370 62h3v1h-3zM603 62h2v1h-2zM368 63h2v1h-2zM605 63h3v1h-3zM365 64h3v1h-3zM608 64h2v1h-2zM362 65h3v1h-3zM610 65h3v1h-3zM360 66h2v1h-2zM613 66h3v1h-3zM358 67h2v1h-2zM616 67h4v1h-4zM356 68h2v1h-2zM620 68h3v1h-3zM354 69h2v1h-2zM351 71h2v1h-2zM631 77h2v1h-2zM634 79h2v1h-2zM636 80h2v1h-2zM944 83h2v1h-2zM198 84h17v1h-17zM340 84h2v1h-2zM215 85h2v1h-2zM338 85h2v1h-2zM642 85h2v1h-2zM948 86h2v1h-2zM218 87h2v1h-2zM335 87h2v1h-2zM220 88h2v1h-2zM333 88h2v1h-2zM646 88h2v1h-2zM725 88h5v1h-5zM330 89h3v1h-3zM648 89h2v1h-2zM723 89h2v1h-2zM730 89h6v1h-6zM328 90h2v1h-2zM650 90h3v1h-3zM721 90h2v1h-2zM736 90h2v1h-2zM224 91h2v1h-2zM324 91h4v1h-4zM653 91h2v1h-2zM719 91h2v1h-2zM738 91h3v1h-3zM320 92h4v1h-4zM655 92h2v1h-2zM741 92h3v1h-3zM317 93h3v1h-3zM716 93h2v1h-2zM744 93h4v1h-4zM228 94h2v1h-2zM315 94h2v1h-2zM658 94h2v1h-2zM714 94h2v1h-2zM748 94h6v1h-6zM844 94h2v1h-2zM230 95h2v1h-2zM250 95h13v1h-13zM313 95h2v1h-2zM660 95h2v1h-2zM754 95h8v1h-8zM842 95h2v1h-2zM232 96h4v1h-4zM242 96h8v1h-8zM263 96h2v1h-2zM311 96h2v1h-2zM662 96h2v1h-2zM711 96h2v1h-2zM762 96h8v1h-8zM236 97h6v1h-6zM265 97h2v1h-2zM292 97h6v1h-6zM306 97h5v1h-5zM664 97h2v1h-2zM770 97h24v1h-24zM839 97h2v1h-2zM267 98h2v1h-2zM288 98h4v1h-4zM298 98h8v1h-8zM666 98h3v1h-3zM708 98h2v1h-2zM794 98h8v1h-8zM836 98h3v1h-3zM269 99h5v1h-5zM282 99h6v1h-6zM669 99h3v1h-3zM802 99h8v1h-8zM832 99h4v1h-4zM274 100h8v1h-8zM672 100h4v1h-4zM810 100h22v1h-22zM676 101h6v1h-6zM704 101h2v1h-2zM682 102h16v1h-16zM698 103h5v1h-5zM37 144h3v1h-3zM34 145h3v1h-3zM40 145h2v1h-2zM150 145h2v1h-2zM30 146h4v1h-4zM42 146h2v1h-2zM93 146h3v1h-3zM148 146h2v1h-2zM27 147h3v1h-3zM44 147h3v1h-3zM90 147h3v1h-3zM96 147h4v1h-4zM25 148h2v1h-2zM47 148h2v1h-2zM87 148h3v1h-3zM100 148h4v1h-4zM134 148h3v1h-3zM145 148h2v1h-2zM23 149h2v1h-2zM49 149h7v1h-7zM84 149h3v1h-3zM104 149h4v1h-4zM132 149h2v1h-2zM137 149h4v1h-4zM143 149h2v1h-2zM56 150h15v1h-15zM81 150h3v1h-3zM108 150h6v1h-6zM130 150h2v1h-2zM141 150h2v1h-2zM20 151h2v1h-2zM71 151h10v1h-10zM114 151h8v1h-8zM128 151h2v1h-2zM18 152h2v1h-2zM122 152h6v1h-6zM15 154h2v1h-2zM1106 251h8v1h-8zM1101 252h5v1h-5zM1114 252h5v1h-5zM1099 253h2v1h-2zM1119 253h2v1h-2zM1097 254h2v1h-2zM1121 254h2v1h-2zM1095 255h2v1h-2zM1123 255h2v1h-2zM1090 256h5v1h-5zM1125 256h3v1h-3zM1086 257h4v1h-4zM1128 257h2v1h-2zM1130 258h3v1h-3zM1133 259h2v1h-2zM1082 260h2v1h-2zM1136 261h2v1h-2zM1140 264h2v1h-2zM1142 265h9v1h-9zM1173 268h10v1h-10zM1170 269h3v1h-3zM1168 270h2v1h-2zM1164 271h4v1h-4zM1160 272h4v1h-4zM1158 273h2v1h-2zM1222 323h2v1h-2zM1224 324h2v1h-2zM1226 325h3v1h-3zM1229 326h3v1h-3zM1270 326h32v1h-32zM1232 327h2v1h-2zM1234 328h3v1h-3zM1237 329h11v1h-11zM1266 329h2v1h-2zM1248 330h4v1h-4zM1252 331h4v1h-4zM1256 332h4v1h-4zM1260 333h3v1h-3zM0 187h1v2h-1zM1 184h1v3h-1zM2 181h1v3h-1zM3 177h1v4h-1zM4 174h1v3h-1zM5 172h1v2h-1zM6 170h1v2h-1zM7 168h1v2h-1zM8 166h1v2h-1zM9 164h1v2h-1zM10 162h1v2h-1zM11 160h1v2h-1zM12 158h1v2h-1zM13 156h1v2h-1zM14 155h1v1h-1zM17 153h1v1h-1zM22 150h1v1h-1zM147 147h1v1h-1zM152 144h1v1h-1zM153 143h1v1h-1zM154 142h1v1h-1zM155 140h1v2h-1zM156 139h1v1h-1zM157 138h1v1h-1zM158 137h1v1h-1zM159 136h1v1h-1zM160 135h1v1h-1zM161 134h1v1h-1zM162 133h1v1h-1zM163 132h1v1h-1zM164 131h1v1h-1zM165 130h1v1h-1zM166 129h1v1h-1zM167 127h1v2h-1zM168 125h1v2h-1zM169 123h1v2h-1zM170 122h1v1h-1zM171 120h1v2h-1zM172 118h1v2h-1zM173 116h1v2h-1zM174 115h1v1h-1zM175 113h1v2h-1zM176 112h1v1h-1zM177 111h1v1h-1zM178 109h1v2h-1zM179 108h1v1h-1zM180 107h1v1h-1zM181 105h1v2h-1zM182 104h1v1h-1zM183 102h1v2h-1zM184 101h1v1h-1zM185 99h1v2h-1zM186 98h1v1h-1zM187 96h1v2h-1zM188 95h1v1h-1zM189 93h1v2h-1zM190 92h1v1h-1zM191 91h1v1h-1zM192 90h1v1h-1zM193 89h1v1h-1zM194 88h1v1h-1zM195 87h1v1h-1zM196 86h1v1h-1zM197 85h1v1h-1zM217 86h1v1h-1zM222 89h1v1h-1zM223 90h1v1h-1zM226 92h1v1h-1zM227 93h1v1h-1zM337 86h1v1h-1zM342 83h1v1h-1zM343 81h1v2h-1zM344 80h1v1h-1zM345 79h1v1h-1zM346 77h1v2h-1zM347 76h1v1h-1zM348 75h1v1h-1zM349 73h1v2h-1zM350 72h1v1h-1zM353 70h1v1h-1zM393 54h1v1h-1zM417 45h1v1h-1zM422 42h1v1h-1zM423 43h1v1h-1zM424 44h1v1h-1zM425 45h1v1h-1zM428 47h1v1h-1zM429 48h1v1h-1zM510 55h1v1h-1zM511 53h1v2h-1zM512 50h1v3h-1zM513 47h1v3h-1zM514 45h1v2h-1zM515 42h1v3h-1zM516 39h1v3h-1zM517 37h1v2h-1zM518 35h1v2h-1zM519 34h1v1h-1zM520 33h1v1h-1zM521 32h1v1h-1zM522 31h1v1h-1zM523 30h1v1h-1zM524 29h1v1h-1zM525 28h1v1h-1zM526 27h1v1h-1zM527 26h1v1h-1zM530 24h1v1h-1zM531 23h1v1h-1zM554 24h1v1h-1zM555 25h1v1h-1zM569 32h1v1h-1zM574 35h1v1h-1zM575 36h1v1h-1zM576 37h1v1h-1zM577 38h1v1h-1zM578 39h1v1h-1zM579 40h1v1h-1zM580 41h1v1h-1zM581 42h1v1h-1zM582 43h1v1h-1zM583 44h1v1h-1zM584 45h1v1h-1zM585 46h1v1h-1zM586 47h1v1h-1zM587 48h1v1h-1zM588 49h1v1h-1zM589 50h1v1h-1zM590 51h1v1h-1zM591 52h1v1h-1zM592 53h1v1h-1zM593 54h1v1h-1zM594 55h1v1h-1zM595 56h1v1h-1zM596 57h1v1h-1zM597 58h1v1h-1zM598 59h1v1h-1zM623 69h1v1h-1zM624 70h1v1h-1zM625 71h1v1h-1zM626 72h1v1h-1zM627 73h1v1h-1zM628 74h1v1h-1zM629 75h1v1h-1zM630 76h1v1h-1zM633 78h1v1h-1zM638 81h1v1h-1zM639 82h1v1h-1zM640 83h1v1h-1zM641 84h1v1h-1zM644 86h1v1h-1zM645 87h1v1h-1zM657 93h1v1h-1zM703 102h1v1h-1zM706 100h1v1h-1zM707 99h1v1h-1zM710 97h1v1h-1zM713 95h1v1h-1zM718 92h1v1h-1zM841 96h1v1h-1zM846 92h1v2h-1zM847 90h1v2h-1zM848 87h1v3h-1zM849 84h1v3h-1zM850 82h1v2h-1zM851 79h1v3h-1zM852 76h1v3h-1zM853 74h1v2h-1zM854 72h1v2h-1zM855 70h1v2h-1zM856 68h1v2h-1zM857 66h1v2h-1zM858 64h1v2h-1zM859 62h1v2h-1zM860 60h1v2h-1zM861 58h1v2h-1zM862 57h1v1h-1zM863 56h1v1h-1zM864 55h1v1h-1zM865 54h1v1h-1zM866 53h1v1h-1zM867 52h1v1h-1zM868 51h1v1h-1zM869 50h1v1h-1zM887 47h1v1h-1zM888 46h1v1h-1zM889 45h1v1h-1zM890 44h1v1h-1zM891 43h1v1h-1zM892 42h1v1h-1zM893 41h1v1h-1zM911 37h1v1h-1zM912 38h1v1h-1zM913 39h1v1h-1zM914 40h1v1h-1zM915 41h1v1h-1zM916 42h1v1h-1zM917 43h1v1h-1zM918 44h1v1h-1zM919 45h1v2h-1zM920 47h1v1h-1zM921 48h1v1h-1zM922 49h1v2h-1zM923 51h1v1h-1zM924 52h1v1h-1zM925 53h1v2h-1zM926 55h1v1h-1zM927 56h1v2h-1zM928 58h1v2h-1zM929 60h1v2h-1zM930 62h1v2h-1zM931 64h1v2h-1zM932 66h1v2h-1zM933 68h1v2h-1zM934 70h1v1h-1zM935 71h1v2h-1zM936 73h1v1h-1zM937 74h1v1h-1zM938 75h1v2h-1zM939 77h1v1h-1zM940 78h1v1h-1zM941 79h1v2h-1zM942 81h1v1h-1zM943 82h1v1h-1zM946 84h1v1h-1zM947 85h1v1h-1zM950 87h1v1h-1zM951 88h1v2h-1zM952 90h1v2h-1zM953 92h1v2h-1zM954 94h1v2h-1zM955 96h1v2h-1zM956 98h1v2h-1zM957 100h1v2h-1zM958 102h1v3h-1zM959 105h1v2h-1zM960 107h1v3h-1zM961 110h1v3h-1zM962 113h1v2h-1zM963 115h1v3h-1zM964 118h1v3h-1zM965 121h1v2h-1zM966 123h1v3h-1zM967 126h1v3h-1zM968 129h1v3h-1zM969 132h1v3h-1zM970 135h1v2h-1zM971 137h1v3h-1zM972 140h1v3h-1zM973 143h1v3h-1zM974 146h1v3h-1zM975 149h1v4h-1zM976 153h1v4h-1zM977 157h1v4h-1zM978 161h1v3h-1zM979 164h1v4h-1zM980 168h1v4h-1zM981 172h1v4h-1zM982 176h1v4h-1zM983 180h1v5h-1zM984 185h1v4h-1zM985 189h1v5h-1zM986 194h1v5h-1zM987 199h1v5h-1zM988 204h1v4h-1zM989 208h1v5h-1zM990 213h1v5h-1zM991 218h1v5h-1zM992 223h1v5h-1zM993 228h1v5h-1zM994 233h1v4h-1zM995 237h1v5h-1zM996 242h1v5h-1zM997 247h1v5h-1zM998 252h1v5h-1zM999 257h1v4h-1zM1000 261h1v5h-1zM1001 266h1v4h-1zM1002 270h1v5h-1zM1003 275h1v4h-1zM1004 279h1v5h-1zM1005 284h1v4h-1zM1006 288h1v4h-1zM1007 292h1v2h-1zM1008 294h1v2h-1zM1009 296h1v3h-1zM1010 299h1v2h-1zM1011 301h1v3h-1zM1012 304h1v2h-1zM1013 306h1v2h-1zM1014 308h1v3h-1zM1015 311h1v2h-1zM1016 313h1v3h-1zM1017 316h1v2h-1zM1018 318h1v3h-1zM1019 321h1v2h-1zM1020 323h1v3h-1zM1021 326h1v2h-1zM1022 328h1v3h-1zM1023 331h1v2h-1zM1024 333h1v2h-1zM1025 335h1v2h-1zM1026 337h1v2h-1zM1027 339h1v2h-1zM1028 341h1v2h-1zM1029 343h1v2h-1zM1030 345h1v3h-1zM1031 348h1v2h-1zM1032 350h1v3h-1zM1033 353h1v3h-1zM1034 356h1v2h-1zM1035 358h1v3h-1zM1036 361h1v3h-1zM1037 364h1v2h-1zM1038 366h1v2h-1zM1039 363h1v3h-1zM1040 361h1v2h-1zM1041 358h1v3h-1zM1042 355h1v3h-1zM1043 352h1v3h-1zM1044 350h1v2h-1zM1045 347h1v3h-1zM1046 344h1v3h-1zM1047 340h1v4h-1zM1048 336h1v4h-1zM1049 332h1v4h-1zM1050 329h1v3h-1zM1051 325h1v4h-1zM1052 321h1v4h-1zM1053 317h1v4h-1zM1054 314h1v3h-1zM1055 311h1v3h-1zM1056 308h1v3h-1zM1057 305h1v3h-1zM1058 302h1v3h-1zM1059 299h1v3h-1zM1060 296h1v3h-1zM1061 293h1v3h-1zM1062 291h1v2h-1zM1063 289h1v2h-1zM1064 287h1v2h-1zM1065 285h1v2h-1zM1066 284h1v1h-1zM1067 282h1v2h-1zM1068 280h1v2h-1zM1069 278h1v2h-1zM1070 277h1v1h-1zM1071 275h1v2h-1zM1072 273h1v2h-1zM1073 272h1v1h-1zM1074 270h1v2h-1zM1075 269h1v1h-1zM1076 267h1v2h-1zM1077 265h1v2h-1zM1078 264h1v1h-1zM1079 263h1v1h-1zM1080 262h1v1h-1zM1081 261h1v1h-1zM1084 259h1v1h-1zM1085 258h1v1h-1zM1135 260h1v1h-1zM1138 262h1v1h-1zM1139 263h1v1h-1zM1151 266h1v1h-1zM1152 267h1v1h-1zM1153 268h1v1h-1zM1154 269h1v1h-1zM1155 270h1v1h-1zM1156 271h1v1h-1zM1157 272h1v1h-1zM1183 269h1v2h-1zM1184 271h1v1h-1zM1185 272h1v2h-1zM1186 274h1v1h-1zM1187 275h1v2h-1zM1188 277h1v1h-1zM1189 278h1v2h-1zM1190 280h1v1h-1zM1191 281h1v1h-1zM1192 282h1v2h-1zM1193 284h1v1h-1zM1194 285h1v1h-1zM1195 286h1v1h-1zM1196 287h1v2h-1zM1197 289h1v1h-1zM1198 290h1v1h-1zM1199 291h1v1h-1zM1200 292h1v1h-1zM1201 293h1v1h-1zM1202 294h1v1h-1zM1203 295h1v1h-1zM1204 296h1v1h-1zM1205 297h1v1h-1zM1206 298h1v1h-1zM1207 299h1v2h-1zM1208 301h1v2h-1zM1209 303h1v1h-1zM1210 304h1v2h-1zM1211 306h1v1h-1zM1212 307h1v2h-1zM1213 309h1v2h-1zM1214 311h1v1h-1zM1215 312h1v2h-1zM1216 314h1v1h-1zM1217 315h1v2h-1zM1218 317h1v1h-1zM1219 318h1v2h-1zM1220 320h1v1h-1zM1221 321h1v2h-1zM1263 332h1v1h-1zM1264 331h1v1h-1zM1265 330h1v1h-1zM1268 328h1v1h-1zM1269 327h1v1h-1z" fill="#3cb371" shape-rendering="crispEdges"/>
<path d="M482 85h16v1h-16zM468 86h14v1h-14zM498 86h6v1h-6zM464 87h4v1h-4zM504 87h2v1h-2zM450 88h14v1h-14zM506 88h3v1h-3zM442 89h8v1h-8zM509 89h2v1h-2zM437 90h5v1h-5zM435 91h2v1h-2zM512 91h2v1h-2zM433 92h2v1h-2zM431 93h2v1h-2zM516 94h2v1h-2zM428 95h2v1h-2zM519 96h2v1h-2zM424 98h2v1h-2zM522 98h2v1h-2zM524 99h2v1h-2zM420 101h2v1h-2zM527 101h2v1h-2zM418 102h2v1h-2zM530 103h2v1h-2zM415 104h2v1h-2zM532 104h2v1h-2zM413 105h2v1h-2zM411 106h2v1h-2zM535 106h2v1h-2zM409 107h2v1h-2zM407 108h2v1h-2zM538 108h2v1h-2zM405 109h2v1h-2zM540 109h2v1h-2zM402 110h3v1h-3zM400 111h2v1h-2zM543 111h2v1h-2zM397 112h3v1h-3zM545 112h2v1h-2zM395 113h2v1h-2zM547 113h2v1h-2zM393 114h2v1h-2zM549 114h3v1h-3zM391 115h2v1h-2zM552 115h2v1h-2zM389 116h2v1h-2zM554 116h3v1h-3zM386 117h3v1h-3zM557 117h3v1h-3zM384 118h2v1h-2zM560 118h2v1h-2zM382 119h2v1h-2zM562 119h3v1h-3zM380 120h2v1h-2zM565 120h3v1h-3zM378 121h2v1h-2zM568 121h4v1h-4zM572 122h4v1h-4zM375 123h2v1h-2zM576 123h2v1h-2zM370 124h5v1h-5zM578 124h3v1h-3zM364 125h6v1h-6zM581 125h3v1h-3zM360 126h4v1h-4zM584 126h2v1h-2zM356 127h4v1h-4zM586 127h3v1h-3zM352 128h4v1h-4zM589 128h3v1h-3zM349 129h3v1h-3zM592 129h2v1h-2zM346 130h3v1h-3zM594 130h3v1h-3zM344 131h2v1h-2zM597 131h3v1h-3zM338 132h6v1h-6zM600 132h4v1h-4zM330 133h8v1h-8zM604 133h3v1h-3zM324 134h6v1h-6zM607 134h2v1h-2zM320 135h4v1h-4zM316 136h4v1h-4zM610 136h2v1h-2zM312 137h4v1h-4zM612 137h2v1h-2zM309 138h3v1h-3zM614 138h2v1h-2zM306 139h3v1h-3zM616 139h2v1h-2zM304 140h2v1h-2zM618 140h3v1h-3zM301 141h3v1h-3zM621 141h2v1h-2zM299 142h2v1h-2zM623 142h2v1h-2zM297 143h2v1h-2zM295 144h2v1h-2zM626 144h2v1h-2zM293 145h2v1h-2zM628 145h2v1h-2zM291 146h2v1h-2zM796 146h4v1h-4zM289 147h2v1h-2zM631 147h2v1h-2zM792 147h4v1h-4zM800 147h4v1h-4zM287 148h2v1h-2zM633 148h2v1h-2zM722 148h14v1h-14zM780 148h12v1h-12zM804 148h4v1h-4zM285 149h2v1h-2zM635 149h2v1h-2zM716 149h6v1h-6zM736 149h4v1h-4zM776 149h4v1h-4zM808 149h2v1h-2zM283 150h2v1h-2zM637 150h3v1h-3zM712 150h4v1h-4zM740 150h14v1h-14zM772 150h4v1h-4zM810 150h3v1h-3zM281 151h2v1h-2zM640 151h2v1h-2zM708 151h4v1h-4zM754 151h8v1h-8zM768 151h4v1h-4zM813 151h5v1h-5zM279 152h2v1h-2zM642 152h3v1h-3zM704 152h4v1h-4zM762 152h6v1h-6zM818 152h6v1h-6zM276 153h3v1h-3zM645 153h11v1h-11zM698 153h6v1h-6zM824 153h4v1h-4zM272 154h4v1h-4zM656 154h4v1h-4zM682 154h16v1h-16zM828 154h4v1h-4zM268 155h4v1h-4zM660 155h4v1h-4zM676 155h6v1h-6zM832 155h4v1h-4zM264 156h4v1h-4zM664 156h4v1h-4zM672 156h4v1h-4zM836 156h4v1h-4zM261 157h3v1h-3zM668 157h4v1h-4zM840 157h2v1h-2zM258 158h3v1h-3zM842 158h3v1h-3zM256 159h2v1h-2zM845 159h2v1h-2zM250 160h6v1h-6zM847 160h2v1h-2zM244 161h6v1h-6zM240 162h4v1h-4zM850 162h2v1h-2zM237 163h3v1h-3zM852 163h2v1h-2zM235 164h2v1h-2zM233 165h2v1h-2zM231 166h2v1h-2zM228 168h2v1h-2zM858 168h2v1h-2zM224 171h2v1h-2zM221 173h2v1h-2zM219 174h2v1h-2zM217 175h2v1h-2zM215 176h2v1h-2zM194 198h2v1h-2zM188 203h2v1h-2zM184 206h2v1h-2zM180 209h2v1h-2zM176 212h2v1h-2zM173 214h2v1h-2zM171 215h2v1h-2zM169 216h2v1h-2zM167 217h2v1h-2zM165 218h2v1h-2zM162 219h3v1h-3zM160 220h2v1h-2zM156 221h4v1h-4zM152 222h4v1h-4zM148 223h4v1h-4zM141 224h7v1h-7zM133 225h8v1h-8zM129 226h4v1h-4zM127 227h2v1h-2zM125 228h2v1h-2zM123 229h2v1h-2zM121 230h2v1h-2zM119 231h2v1h-2zM117 232h2v1h-2zM115 233h2v1h-2zM113 234h2v1h-2zM110 236h2v1h-2zM106 239h2v1h-2zM102 242h2v1h-2zM70 276h2v1h-2zM66 279h2v1h-2zM62 282h2v1h-2zM59 284h2v1h-2zM57 285h2v1h-2zM55 286h2v1h-2zM53 287h2v1h-2zM51 288h2v1h-2zM48 290h2v1h-2zM45 292h2v1h-2zM43 293h2v1h-2zM40 295h2v1h-2zM36 298h2v1h-2zM30 303h2v1h-2zM23 309h2v1h-2zM1198 354h2v1h-2zM1196 355h2v1h-2zM1200 355h2v1h-2zM1194 356h2v1h-2zM1202 356h3v1h-3zM1205 357h2v1h-2zM1191 358h2v1h-2zM1207 358h2v1h-2zM1209 359h2v1h-2zM1211 360h2v1h-2zM1213 361h2v1h-2zM1186 362h2v1h-2zM1216 363h2v1h-2zM1181 366h2v1h-2zM1220 366h2v1h-2zM1260 366h4v1h-4zM1179 367h2v1h-2zM1222 367h2v1h-2zM1256 367h4v1h-4zM1264 367h4v1h-4zM1177 368h2v1h-2zM1224 368h4v1h-4zM1250 368h6v1h-6zM1268 368h6v1h-6zM1282 368h20v1h-20zM1175 369h2v1h-2zM1228 369h6v1h-6zM1242 369h8v1h-8zM1274 369h8v1h-8zM1234 370h8v1h-8zM1172 371h2v1h-2zM1170 372h2v1h-2zM1167 374h2v1h-2zM1165 375h2v1h-2zM1162 376h3v1h-3zM1160 377h2v1h-2zM1158 378h2v1h-2zM1154 381h2v1h-2zM1148 386h2v1h-2zM1144 389h2v1h-2zM1100 436h2v1h-2zM1098 437h2v1h-2zM1095 439h2v1h-2zM1090 440h5v1h-5zM1085 441h5v1h-5zM1082 442h3v1h-3zM1080 443h2v1h-2zM1078 444h2v1h-2zM1076 445h2v1h-2zM1072 448h2v1h-2zM1068 451h2v1h-2zM1008 452h2v1h-2zM1064 454h2v1h-2zM1012 455h2v1h-2zM1016 458h2v1h-2zM1058 459h2v1h-2zM1020 461h2v1h-2zM1026 466h2v1h-2zM1032 471h2v1h-2zM1045 471h2v1h-2zM1043 472h2v1h-2zM1041 473h2v1h-2zM1036 474h2v1h-2zM1039 474h2v1h-2zM0 338h1v1h-1zM1 336h1v2h-1zM2 334h1v2h-1zM3 333h1v1h-1zM4 331h1v2h-1zM5 330h1v1h-1zM6 328h1v2h-1zM7 326h1v2h-1zM8 325h1v1h-1zM9 324h1v1h-1zM10 323h1v1h-1zM11 322h1v1h-1zM12 321h1v1h-1zM13 319h1v2h-1zM14 318h1v1h-1zM15 317h1v1h-1zM16 316h1v1h-1zM17 315h1v1h-1zM18 314h1v1h-1zM19 313h1v1h-1zM20 312h1v1h-1zM21 311h1v1h-1zM22 310h1v1h-1zM25 308h1v1h-1zM26 307h1v1h-1zM27 306h1v1h-1zM28 305h1v1h-1zM29 304h1v1h-1zM32 302h1v1h-1zM33 301h1v1h-1zM34 300h1v1h-1zM35 299h1v1h-1zM38 297h1v1h-1zM39 296h1v1h-1zM42 294h1v1h-1zM47 291h1v1h-1zM50 289h1v1h-1zM61 283h1v1h-1zM64 281h1v1h-1zM65 280h1v1h-1zM68 278h1v1h-1zM69 277h1v1h-1zM72 275h1v1h-1zM73 274h1v1h-1zM74 273h1v1h-1zM75 272h1v1h-1zM76 271h1v1h-1zM77 270h1v1h-1zM78 269h1v1h-1zM79 268h1v1h-1zM80 267h1v1h-1zM81 266h1v1h-1zM82 264h1v2h-1zM83 263h1v1h-1zM84 262h1v1h-1zM85 260h1v2h-1zM86 259h1v1h-1zM87 258h1v1h-1zM88 256h1v2h-1zM89 255h1v1h-1zM90 254h1v1h-1zM91 253h1v1h-1zM92 252h1v1h-1zM93 251h1v1h-1zM94 250h1v1h-1zM95 249h1v1h-1zM96 248h1v1h-1zM97 247h1v1h-1zM98 246h1v1h-1zM99 245h1v1h-1zM100 244h1v1h-1zM101 243h1v1h-1zM104 241h1v1h-1zM105 240h1v1h-1zM108 238h1v1h-1zM109 237h1v1h-1zM112 235h1v1h-1zM175 213h1v1h-1zM178 211h1v1h-1zM179 210h1v1h-1zM182 208h1v1h-1zM183 207h1v1h-1zM186 205h1v1h-1zM187 204h1v1h-1zM190 202h1v1h-1zM191 201h1v1h-1zM192 200h1v1h-1zM193 199h1v1h-1zM196 197h1v1h-1zM197 196h1v1h-1zM198 195h1v1h-1zM199 194h1v1h-1zM200 193h1v1h-1zM201 192h1v1h-1zM202 190h1v2h-1zM203 189h1v1h-1zM204 188h1v1h-1zM205 187h1v1h-1zM206 186h1v1h-1zM207 185h1v1h-1zM208 184h1v1h-1zM209 183h1v1h-1zM210 181h1v2h-1zM211 180h1v1h-1zM212 179h1v1h-1zM213 178h1v1h-1zM214 177h1v1h-1zM223 172h1v1h-1zM226 170h1v1h-1zM227 169h1v1h-1zM230 167h1v1h-1zM377 122h1v1h-1zM417 103h1v1h-1zM422 100h1v1h-1zM423 99h1v1h-1zM426 97h1v1h-1zM427 96h1v1h-1zM430 94h1v1h-1zM511 90h1v1h-1zM514 92h1v1h-1zM515 93h1v1h-1zM518 95h1v1h-1zM521 97h1v1h-1zM526 100h1v1h-1zM529 102h1v1h-1zM534 105h1v1h-1zM537 107h1v1h-1zM542 110h1v1h-1zM609 135h1v1h-1zM625 143h1v1h-1zM630 146h1v1h-1zM849 161h1v1h-1zM854 164h1v1h-1zM855 165h1v1h-1zM856 166h1v1h-1zM857 167h1v1h-1zM860 169h1v1h-1zM861 170h1v1h-1zM862 171h1v1h-1zM863 172h1v2h-1zM864 174h1v1h-1zM865 175h1v2h-1zM866 177h1v1h-1zM867 178h1v2h-1zM868 180h1v1h-1zM869 181h1v2h-1zM870 183h1v1h-1zM871 184h1v2h-1zM872 186h1v1h-1zM873 187h1v2h-1zM874 189h1v1h-1zM875 190h1v2h-1zM876 192h1v1h-1zM877 193h1v2h-1zM878 195h1v1h-1zM879 196h1v2h-1zM880 198h1v2h-1zM881 200h1v1h-1zM882 201h1v2h-1zM883 203h1v1h-1zM884 204h1v2h-1zM885 206h1v2h-1zM886 208h1v1h-1zM887 209h1v2h-1zM888 211h1v2h-1zM889 213h1v2h-1zM890 215h1v2h-1zM891 217h1v2h-1zM892 219h1v2h-1zM893 221h1v2h-1zM894 223h1v2h-1zM895 225h1v2h-1zM896 227h1v2h-1zM897 229h1v2h-1zM898 231h1v1h-1zM899 232h1v2h-1zM900 234h1v2h-1zM901 236h1v2h-1zM902 238h1v1h-1zM903 239h1v2h-1zM904 241h1v2h-1zM905 243h1v2h-1zM906 245h1v2h-1zM907 247h1v2h-1zM908 249h1v2h-1zM909 251h1v2h-1zM910 253h1v2h-1zM911 255h1v2h-1zM912 257h1v2h-1zM913 259h1v2h-1zM914 261h1v2h-1zM915 263h1v2h-1zM916 265h1v2h-1zM917 267h1v2h-1zM918 269h1v2h-1zM919 271h1v2h-1zM920 273h1v2h-1zM921 275h1v2h-1zM922 277h1v1h-1zM923 278h1v2h-1zM924 280h1v2h-1zM925 282h1v2h-1zM926 284h1v1h-1zM927 285h1v2h-1zM928 287h1v2h-1zM929 289h1v2h-1zM930 291h1v1h-1zM931 292h1v2h-1zM932 294h1v2h-1zM933 296h1v2h-1zM934 298h1v2h-1zM935 300h1v2h-1zM936 302h1v2h-1zM937 304h1v2h-1zM938 306h1v3h-1zM939 309h1v2h-1zM940 311h1v2h-1zM941 313h1v2h-1zM942 315h1v3h-1zM943 318h1v2h-1zM944 320h1v2h-1zM945 322h1v2h-1zM946 324h1v3h-1zM947 327h1v2h-1zM948 329h1v2h-1zM949 331h1v2h-1zM950 333h1v3h-1zM951 336h1v2h-1zM952 338h1v3h-1zM953 341h1v3h-1zM954 344h1v2h-1zM955 346h1v3h-1zM956 349h1v3h-1zM957 352h1v2h-1zM958 354h1v3h-1zM959 357h1v2h-1zM960 359h1v3h-1zM961 362h1v2h-1zM962 364h1v3h-1zM963 367h1v2h-1zM964 369h1v3h-1zM965 372h1v2h-1zM966 374h1v3h-1zM967 377h1v2h-1zM968 379h1v2h-1zM969 381h1v2h-1zM970 383h1v2h-1zM971 385h1v2h-1zM972 387h1v2h-1zM973 389h1v2h-1zM974 391h1v3h-1zM975 394h1v2h-1zM976 396h1v2h-1zM977 398h1v2h-1zM978 400h1v3h-1zM979 403h1v2h-1zM980 405h1v2h-1zM981 407h1v2h-1zM982 409h1v2h-1zM983 411h1v2h-1zM984 413h1v2h-1zM985 415h1v2h-1zM986 417h1v2h-1zM987 419h1v2h-1zM988 421h1v2h-1zM989 423h1v2h-1zM990 425h1v1h-1zM991 426h1v2h-1zM992 428h1v2h-1zM993 430h1v2h-1zM994 432h1v2h-1zM995 434h1v2h-1zM996 436h1v2h-1zM997 438h1v2h-1zM998 440h1v1h-1zM999 441h1v1h-1zM1000 442h1v2h-1zM1001 444h1v1h-1zM1002 445h1v1h-1zM1003 446h1v1h-1zM1004 447h1v2h-1zM1005 449h1v1h-1zM1006 450h1v1h-1zM1007 451h1v1h-1zM1010 453h1v1h-1zM1011 454h1v1h-1zM1014 456h1v1h-1zM1015 457h1v1h-1zM1018 459h1v1h-1zM1019 460h1v1h-1zM1022 462h1v1h-1zM1023 463h1v1h-1zM1024 464h1v1h-1zM1025 465h1v1h-1zM1028 467h1v1h-1zM1029 468h1v1h-1zM1030 469h1v1h-1zM1031 470h1v1h-1zM1034 472h1v1h-1zM1035 473h1v1h-1zM1038 475h1v1h-1zM1047 470h1v1h-1zM1048 469h1v1h-1zM1049 468h1v1h-1zM1050 467h1v1h-1zM1051 466h1v1h-1zM1052 465h1v1h-1zM1053 464h1v1h-1zM1054 463h1v1h-1zM1055 462h1v1h-1zM1056 461h1v1h-1zM1057 460h1v1h-1zM1060 458h1v1h-1zM1061 457h1v1h-1zM1062 456h1v1h-1zM1063 455h1v1h-1zM1066 453h1v1h-1zM1067 452h1v1h-1zM1070 450h1v1h-1zM1071 449h1v1h-1zM1074 447h1v1h-1zM1075 446h1v1h-1zM1097 438h1v1h-1zM1102 435h1v1h-1zM1103 434h1v1h-1zM1104 433h1v1h-1zM1105 432h1v1h-1zM1106 431h1v1h-1zM1107 430h1v1h-1zM1108 429h1v1h-1zM1109 428h1v1h-1zM1110 427h1v1h-1zM1111 426h1v1h-1zM1112 424h1v2h-1zM1113 423h1v1h-1zM1114 422h1v1h-1zM1115 421h1v1h-1zM1116 419h1v2h-1zM1117 418h1v1h-1zM1118 417h1v1h-1zM1119 416h1v1h-1zM1120 415h1v1h-1zM1121 414h1v1h-1zM1122 412h1v2h-1zM1123 411h1v1h-1zM1124 410h1v1h-1zM1125 409h1v1h-1zM1126 408h1v1h-1zM1127 407h1v1h-1zM1128 406h1v1h-1zM1129 405h1v1h-1zM1130 403h1v2h-1zM1131 402h1v1h-1zM1132 401h1v1h-1zM1133 400h1v1h-1zM1134 399h1v1h-1zM1135 398h1v1h-1zM1136 397h1v1h-1zM1137 396h1v1h-1zM1138 395h1v1h-1zM1139 394h1v1h-1zM1140 393h1v1h-1zM1141 392h1v1h-1zM1142 391h1v1h-1zM1143 390h1v1h-1zM1146 388h1v1h-1zM1147 387h1v1h-1zM1150 385h1v1h-1zM1151 384h1v1h-1zM1152 383h1v1h-1zM1153 382h1v1h-1zM1156 380h1v1h-1zM1157 379h1v1h-1zM1169 373h1v1h-1zM1174 370h1v1h-1zM1183 365h1v1h-1zM1184 364h1v1h-1zM1185 363h1v1h-1zM1188 361h1v1h-1zM1189 360h1v1h-1zM1190 359h1v1h-1zM1193 357h1v1h-1zM1215 362h1v1h-1zM1218 364h1v1h-1zM1219 365h1v1h-1z" fill="#3cb371" shape-rendering="crispEdges"/>
<path d="M485 114h11v1h-11zM483 115h2v1h-2zM496 115h2v1h-2zM481 116h2v1h-2zM498 116h3v1h-3zM479 117h2v1h-2zM501 117h2v1h-2zM469 118h10v1h-10zM467 119h2v1h-2zM504 119h2v1h-2zM465 120h2v1h-2zM463 121h2v1h-2zM453 122h10v1h-10zM508 122h2v1h-2zM450 123h3v1h-3zM448 124h2v1h-2zM445 125h3v1h-3zM443 126h2v1h-2zM441 127h2v1h-2zM439 128h2v1h-2zM420 159h2v1h-2zM418 160h2v1h-2zM415 162h2v1h-2zM412 164h2v1h-2zM408 167h2v1h-2zM405 169h2v1h-2zM403 170h2v1h-2zM401 171h2v1h-2zM399 172h2v1h-2zM397 173h2v1h-2zM394 174h3v1h-3zM392 175h2v1h-2zM389 176h3v1h-3zM386 177h3v1h-3zM322 178h8v1h-8zM384 178h2v1h-2zM310 179h12v1h-12zM330 179h6v1h-6zM382 179h2v1h-2zM308 180h2v1h-2zM336 180h4v1h-4zM306 181h2v1h-2zM340 181h3v1h-3zM343 182h2v1h-2zM303 183h2v1h-2zM346 184h2v1h-2zM348 185h2v1h-2zM350 186h4v1h-4zM354 187h21v1h-21zM293 194h2v1h-2zM798 194h2v1h-2zM291 195h2v1h-2zM796 195h2v1h-2zM800 195h4v1h-4zM289 196h2v1h-2zM794 196h2v1h-2zM804 196h3v1h-3zM287 197h2v1h-2zM807 197h2v1h-2zM791 198h2v1h-2zM786 199h5v1h-5zM810 199h2v1h-2zM781 200h5v1h-5zM812 200h2v1h-2zM778 201h3v1h-3zM776 202h2v1h-2zM815 202h2v1h-2zM543 203h2v1h-2zM597 203h10v1h-10zM773 203h3v1h-3zM817 203h2v1h-2zM594 204h3v1h-3zM700 204h6v1h-6zM771 204h2v1h-2zM819 204h2v1h-2zM546 205h2v1h-2zM592 205h2v1h-2zM608 205h2v1h-2zM685 205h5v1h-5zM696 205h4v1h-4zM706 205h6v1h-6zM769 205h2v1h-2zM821 205h3v1h-3zM548 206h2v1h-2zM588 206h4v1h-4zM682 206h3v1h-3zM690 206h6v1h-6zM712 206h4v1h-4zM767 206h2v1h-2zM824 206h2v1h-2zM276 207h2v1h-2zM550 207h4v1h-4zM584 207h4v1h-4zM680 207h2v1h-2zM716 207h6v1h-6zM730 207h37v1h-37zM826 207h3v1h-3zM554 208h6v1h-6zM580 208h4v1h-4zM612 208h2v1h-2zM678 208h2v1h-2zM722 208h8v1h-8zM829 208h2v1h-2zM560 209h4v1h-4zM576 209h4v1h-4zM676 209h2v1h-2zM272 210h2v1h-2zM564 210h12v1h-12zM615 210h2v1h-2zM832 210h2v1h-2zM618 212h2v1h-2zM672 212h2v1h-2zM620 213h2v1h-2zM836 213h2v1h-2zM622 214h2v1h-2zM660 214h11v1h-11zM266 215h2v1h-2zM624 215h4v1h-4zM656 215h4v1h-4zM628 216h4v1h-4zM650 216h6v1h-6zM632 217h2v1h-2zM644 217h6v1h-6zM634 218h3v1h-3zM640 218h4v1h-4zM637 219h3v1h-3zM260 220h2v1h-2zM256 223h2v1h-2zM252 225h3v1h-3zM248 226h4v1h-4zM244 227h4v1h-4zM240 228h4v1h-4zM238 229h2v1h-2zM130 300h16v1h-16zM126 301h4v1h-4zM146 301h3v1h-3zM149 302h2v1h-2zM151 303h3v1h-3zM154 304h3v1h-3zM157 305h3v1h-3zM160 306h2v1h-2zM162 307h3v1h-3zM196 307h2v1h-2zM165 308h2v1h-2zM194 308h2v1h-2zM168 310h2v1h-2zM191 310h2v1h-2zM186 311h5v1h-5zM180 312h6v1h-6zM172 313h2v1h-2zM176 313h4v1h-4zM174 314h2v1h-2zM1260 400h2v1h-2zM1258 401h2v1h-2zM1255 403h2v1h-2zM1252 405h2v1h-2zM1248 408h2v1h-2zM1270 409h2v1h-2zM1218 410h8v1h-8zM1234 410h13v1h-13zM1272 410h4v1h-4zM1282 410h20v1h-20zM1213 411h5v1h-5zM1226 411h8v1h-8zM1276 411h6v1h-6zM1211 412h2v1h-2zM1209 413h2v1h-2zM1207 414h2v1h-2zM1204 415h3v1h-3zM1200 416h4v1h-4zM1198 417h2v1h-2zM1172 474h2v1h-2zM1168 477h2v1h-2zM1165 479h2v1h-2zM1163 480h2v1h-2zM1161 481h2v1h-2zM1159 482h2v1h-2zM10 483h2v1h-2zM3 487h4v1h-4zM0 488h3v1h-3zM1029 592h2v1h-2zM1026 593h3v1h-3zM1024 594h2v1h-2zM1022 595h2v1h-2zM1018 598h2v1h-2zM1010 605h2v1h-2zM1098 621h2v1h-2zM1062 622h2v1h-2zM1064 623h4v1h-4zM1068 624h6v1h-6zM7 486h1v1h-1zM8 485h1v1h-1zM9 484h1v1h-1zM12 482h1v1h-1zM13 481h1v1h-1zM14 480h1v1h-1zM15 478h1v2h-1zM16 477h1v1h-1zM17 476h1v1h-1zM18 474h1v2h-1zM19 473h1v1h-1zM20 472h1v1h-1zM21 470h1v2h-1zM22 469h1v1h-1zM23 468h1v1h-1zM24 467h1v1h-1zM25 466h1v1h-1zM26 465h1v1h-1zM27 464h1v1h-1zM28 463h1v1h-1zM29 462h1v1h-1zM30 461h1v1h-1zM31 460h1v1h-1zM32 459h1v1h-1zM33 457h1v2h-1zM34 456h1v1h-1zM35 455h1v1h-1zM36 453h1v2h-1zM37 452h1v1h-1zM38 450h1v2h-1zM39 447h1v3h-1zM40 445h1v2h-1zM41 442h1v3h-1zM42 440h1v2h-1zM43 438h1v2h-1zM44 436h1v2h-1zM45 434h1v2h-1zM46 432h1v2h-1zM47 431h1v1h-1zM48 430h1v1h-1zM49 429h1v1h-1zM50 428h1v1h-1zM51 426h1v2h-1zM52 425h1v1h-1zM53 424h1v1h-1zM54 423h1v1h-1zM55 422h1v1h-1zM56 421h1v1h-1zM57 420h1v1h-1zM58 418h1v2h-1zM59 417h1v1h-1zM60 416h1v1h-1zM61 415h1v1h-1zM62 413h1v2h-1zM63 412h1v1h-1zM64 411h1v1h-1zM65 409h1v2h-1zM66 407h1v2h-1zM67 406h1v1h-1zM68 404h1v2h-1zM69 403h1v1h-1zM70 401h1v2h-1zM71 399h1v2h-1zM72 398h1v1h-1zM73 396h1v2h-1zM74 394h1v2h-1zM75 392h1v2h-1zM76 391h1v1h-1zM77 389h1v2h-1zM78 387h1v2h-1zM79 385h1v2h-1zM80 383h1v2h-1zM81 381h1v2h-1zM82 379h1v2h-1zM83 376h1v3h-1zM84 373h1v3h-1zM85 371h1v2h-1zM86 368h1v3h-1zM87 366h1v2h-1zM88 364h1v2h-1zM89 362h1v2h-1zM90 359h1v3h-1zM91 357h1v2h-1zM92 355h1v2h-1zM93 353h1v2h-1zM94 351h1v2h-1zM95 349h1v2h-1zM96 347h1v2h-1zM97 345h1v2h-1zM98 343h1v2h-1zM99 341h1v2h-1zM100 339h1v2h-1zM101 337h1v2h-1zM102 335h1v2h-1zM103 334h1v1h-1zM104 332h1v2h-1zM105 331h1v1h-1zM106 330h1v1h-1zM107 328h1v2h-1zM108 327h1v1h-1zM109 326h1v1h-1zM110 324h1v2h-1zM111 323h1v1h-1zM112 321h1v2h-1zM113 320h1v1h-1zM114 318h1v2h-1zM115 317h1v1h-1zM116 315h1v2h-1zM117 314h1v1h-1zM118 312h1v2h-1zM119 311h1v1h-1zM120 309h1v2h-1zM121 308h1v1h-1zM122 307h1v1h-1zM123 305h1v2h-1zM124 304h1v1h-1zM125 302h1v2h-1zM167 309h1v1h-1zM170 311h1v1h-1zM171 312h1v1h-1zM193 309h1v1h-1zM198 305h1v2h-1zM199 303h1v2h-1zM200 301h1v2h-1zM201 299h1v2h-1zM202 297h1v2h-1zM203 295h1v2h-1zM204 293h1v2h-1zM205 291h1v2h-1zM206 288h1v3h-1zM207 286h1v2h-1zM208 284h1v2h-1zM209 282h1v2h-1zM210 279h1v3h-1zM211 277h1v2h-1zM212 275h1v2h-1zM213 273h1v2h-1zM214 271h1v2h-1zM215 269h1v2h-1zM216 267h1v2h-1zM217 265h1v2h-1zM218 264h1v1h-1zM219 262h1v2h-1zM220 260h1v2h-1zM221 258h1v2h-1zM222 256h1v2h-1zM223 254h1v2h-1zM224 252h1v2h-1zM225 250h1v2h-1zM226 247h1v3h-1zM227 245h1v2h-1zM228 243h1v2h-1zM229 241h1v2h-1zM230 239h1v2h-1zM231 238h1v1h-1zM232 236h1v2h-1zM233 235h1v1h-1zM234 234h1v1h-1zM235 233h1v1h-1zM236 231h1v2h-1zM237 230h1v1h-1zM255 224h1v1h-1zM258 222h1v1h-1zM259 221h1v1h-1zM262 219h1v1h-1zM263 218h1v1h-1zM264 217h1v1h-1zM265 216h1v1h-1zM268 214h1v1h-1zM269 213h1v1h-1zM270 212h1v1h-1zM271 211h1v1h-1zM274 209h1v1h-1zM275 208h1v1h-1zM278 206h1v1h-1zM279 205h1v1h-1zM280 204h1v1h-1zM281 203h1v1h-1zM282 202h1v1h-1zM283 201h1v1h-1zM284 200h1v1h-1zM285 199h1v1h-1zM286 198h1v1h-1zM295 193h1v1h-1zM296 191h1v2h-1zM297 190h1v1h-1zM298 189h1v1h-1zM299 188h1v1h-1zM300 186h1v2h-1zM301 185h1v1h-1zM302 184h1v1h-1zM305 182h1v1h-1zM345 183h1v1h-1zM375 186h1v1h-1zM376 185h1v1h-1zM377 184h1v1h-1zM378 183h1v1h-1zM379 182h1v1h-1zM380 181h1v1h-1zM381 180h1v1h-1zM407 168h1v1h-1zM410 166h1v1h-1zM411 165h1v1h-1zM414 163h1v1h-1zM417 161h1v1h-1zM422 157h1v2h-1zM423 155h1v2h-1zM424 153h1v2h-1zM425 150h1v3h-1zM426 148h1v2h-1zM427 145h1v3h-1zM428 143h1v2h-1zM429 141h1v2h-1zM430 139h1v2h-1zM431 138h1v1h-1zM432 136h1v2h-1zM433 135h1v1h-1zM434 134h1v1h-1zM435 133h1v1h-1zM436 131h1v2h-1zM437 130h1v1h-1zM438 129h1v1h-1zM503 118h1v1h-1zM506 120h1v1h-1zM507 121h1v1h-1zM510 123h1v2h-1zM511 125h1v4h-1zM512 129h1v4h-1zM513 133h1v4h-1zM514 137h1v4h-1zM515 141h1v4h-1zM516 145h1v4h-1zM517 149h1v4h-1zM518 153h1v3h-1zM519 156h1v2h-1zM520 158h1v2h-1zM521 160h1v3h-1zM522 163h1v2h-1zM523 165h1v3h-1zM524 168h1v2h-1zM525 170h1v2h-1zM526 172h1v2h-1zM527 174h1v2h-1zM528 176h1v2h-1zM529 178h1v2h-1zM530 180h1v2h-1zM531 182h1v2h-1zM532 184h1v2h-1zM533 186h1v2h-1zM534 188h1v1h-1zM535 189h1v2h-1zM536 191h1v2h-1zM537 193h1v2h-1zM538 195h1v1h-1zM539 196h1v2h-1zM540 198h1v2h-1zM541 200h1v2h-1zM542 202h1v1h-1zM545 204h1v1h-1zM607 204h1v1h-1zM610 206h1v1h-1zM611 207h1v1h-1zM614 209h1v1h-1zM617 211h1v1h-1zM671 213h1v1h-1zM674 211h1v1h-1zM675 210h1v1h-1zM793 197h1v1h-1zM809 198h1v1h-1zM814 201h1v1h-1zM831 209h1v1h-1zM834 211h1v1h-1zM835 212h1v1h-1zM838 214h1v1h-1zM839 215h1v1h-1zM840 216h1v2h-1zM841 218h1v1h-1zM842 219h1v1h-1zM843 220h1v1h-1zM844 221h1v2h-1zM845 223h1v1h-1zM846 224h1v3h-1zM847 227h1v4h-1zM848 231h1v4h-1zM849 235h1v4h-1zM850 239h1v4h-1zM851 243h1v4h-1zM852 247h1v4h-1zM853 251h1v4h-1zM854 255h1v4h-1zM855 259h1v4h-1zM856 263h1v3h-1zM857 266h1v4h-1zM858 270h1v3h-1zM859 273h1v4h-1zM860 277h1v3h-1zM861 280h1v4h-1zM862 284h1v3h-1zM863 287h1v4h-1zM864 291h1v4h-1zM865 295h1v4h-1zM866 299h1v4h-1zM867 303h1v4h-1zM868 307h1v4h-1zM869 311h1v4h-1zM870 315h1v4h-1zM871 319h1v3h-1zM872 322h1v3h-1zM873 325h1v3h-1zM874 328h1v2h-1zM875 330h1v3h-1zM876 333h1v3h-1zM877 336h1v3h-1zM878 339h1v3h-1zM879 342h1v4h-1zM880 346h1v3h-1zM881 349h1v4h-1zM882 353h1v3h-1zM883 356h1v4h-1zM884 360h1v3h-1zM885 363h1v4h-1zM886 367h1v4h-1zM887 371h1v5h-1zM888 376h1v5h-1zM889 381h1v5h-1zM890 386h1v5h-1zM891 391h1v5h-1zM892 396h1v5h-1zM893 401h1v5h-1zM894 406h1v4h-1zM895 410h1v4h-1zM896 414h1v4h-1zM897 418h1v4h-1zM898 422h1v4h-1zM899 426h1v4h-1zM900 430h1v4h-1zM901 434h1v4h-1zM902 438h1v4h-1zM903 442h1v4h-1zM904 446h1v4h-1zM905 450h1v4h-1zM906 454h1v4h-1zM907 458h1v4h-1zM908 462h1v4h-1zM909 466h1v4h-1zM910 470h1v4h-1zM911 474h1v3h-1zM912 477h1v3h-1zM913 480h1v3h-1zM914 483h1v4h-1zM915 487h1v3h-1zM916 490h1v3h-1zM917 493h1v3h-1zM918 496h1v2h-1zM919 498h1v2h-1zM920 500h1v2h-1zM921 502h1v2h-1zM922 504h1v2h-1zM923 506h1v2h-1zM924 508h1v2h-1zM925 510h1v2h-1zM926 512h1v2h-1zM927 514h1v2h-1zM928 516h1v2h-1zM929 518h1v1h-1zM930 519h1v2h-1zM931 521h1v1h-1zM932 522h1v2h-1zM933 524h1v2h-1zM934 526h1v2h-1zM935 528h1v3h-1zM936 531h1v3h-1zM937 534h1v3h-1zM938 537h1v3h-1zM939 540h1v3h-1zM940 543h1v3h-1zM941 546h1v3h-1zM942 549h1v3h-1zM943 552h1v4h-1zM944 556h1v4h-1zM945 560h1v4h-1zM946 564h1v4h-1zM947 568h1v4h-1zM948 572h1v4h-1zM949 576h1v4h-1zM950 580h1v3h-1zM951 583h1v3h-1zM952 586h1v4h-1zM953 590h1v3h-1zM954 593h1v3h-1zM955 596h1v3h-1zM956 599h1v4h-1zM957 603h1v3h-1zM958 606h1v3h-1zM959 609h1v2h-1zM960 611h1v2h-1zM961 613h1v2h-1zM962 615h1v3h-1zM963 618h1v2h-1zM964 620h1v2h-1zM965 622h1v2h-1zM966 624h1v1h-1zM999 624h1v1h-1zM1000 622h1v2h-1zM1001 620h1v2h-1zM1002 617h1v3h-1zM1003 615h1v2h-1zM1004 613h1v2h-1zM1005 611h1v2h-1zM1006 609h1v2h-1zM1007 608h1v1h-1zM1008 607h1v1h-1zM1009 606h1v1h-1zM1012 604h1v1h-1zM1013 603h1v1h-1zM1014 602h1v1h-1zM1015 601h1v1h-1zM1016 600h1v1h-1zM1017 599h1v1h-1zM1020 597h1v1h-1zM1021 596h1v1h-1zM1031 591h1v1h-1zM1032 590h1v1h-1zM1033 589h1v1h-1zM1034 587h1v2h-1zM1035 586h1v1h-1zM1036 585h1v1h-1zM1037 584h1v1h-1zM1038 583h1v1h-1zM1039 584h1v2h-1zM1040 586h1v2h-1zM1041 588h1v2h-1zM1042 590h1v1h-1zM1043 591h1v2h-1zM1044 593h1v2h-1zM1045 595h1v2h-1zM1046 597h1v1h-1zM1047 598h1v2h-1zM1048 600h1v2h-1zM1049 602h1v2h-1zM1050 604h1v2h-1zM1051 606h1v2h-1zM1052 608h1v2h-1zM1053 610h1v2h-1zM1054 612h1v1h-1zM1055 613h1v1h-1zM1056 614h1v2h-1zM1057 616h1v1h-1zM1058 617h1v1h-1zM1059 618h1v1h-1zM1060 619h1v2h-1zM1061 621h1v1h-1zM1095 624h1v1h-1zM1096 623h1v1h-1zM1097 622h1v1h-1zM1100 620h1v1h-1zM1101 619h1v1h-1zM1102 618h1v1h-1zM1103 616h1v2h-1zM1104 614h1v2h-1zM1105 612h1v2h-1zM1106 610h1v2h-1zM1107 608h1v2h-1zM1108 606h1v2h-1zM1109 604h1v2h-1zM1110 602h1v2h-1zM1111 599h1v3h-1zM1112 597h1v2h-1zM1113 594h1v3h-1zM1114 591h1v3h-1zM1115 588h1v3h-1zM1116 586h1v2h-1zM1117 583h1v3h-1zM1118 580h1v3h-1zM1119 578h1v2h-1zM1120 575h1v3h-1zM1121 573h1v2h-1zM1122 570h1v3h-1zM1123 568h1v2h-1zM1124 565h1v3h-1zM1125 563h1v2h-1zM1126 560h1v3h-1zM1127 558h1v2h-1zM1128 555h1v3h-1zM1129 552h1v3h-1zM1130 550h1v2h-1zM1131 547h1v3h-1zM1132 544h1v3h-1zM1133 542h1v2h-1zM1134 539h1v3h-1zM1135 536h1v3h-1zM1136 533h1v3h-1zM1137 530h1v3h-1zM1138 528h1v2h-1zM1139 525h1v3h-1zM1140 522h1v3h-1zM1141 519h1v3h-1zM1142 517h1v2h-1zM1143 515h1v2h-1zM1144 514h1v1h-1zM1145 513h1v1h-1zM1146 511h1v2h-1zM1147 510h1v1h-1zM1148 509h1v1h-1zM1149 507h1v2h-1zM1150 505h1v2h-1zM1151 502h1v3h-1zM1152 499h1v3h-1zM1153 496h1v3h-1zM1154 494h1v2h-1zM1155 491h1v3h-1zM1156 488h1v3h-1zM1157 485h1v3h-1zM1158 483h1v2h-1zM1167 478h1v1h-1zM1170 476h1v1h-1zM1171 475h1v1h-1zM1174 473h1v1h-1zM1175 472h1v1h-1zM1176 471h1v1h-1zM1177 470h1v1h-1zM1178 468h1v2h-1zM1179 467h1v1h-1zM1180 466h1v1h-1zM1181 465h1v1h-1zM1182 463h1v2h-1zM1183 460h1v3h-1zM1184 456h1v4h-1zM1185 453h1v3h-1zM1186 450h1v3h-1zM1187 447h1v3h-1zM1188 443h1v4h-1zM1189 440h1v3h-1zM1190 437h1v3h-1zM1191 435h1v2h-1zM1192 432h1v3h-1zM1193 429h1v3h-1zM1194 427h1v2h-1zM1195 424h1v3h-1zM1196 421h1v3h-1zM1197 419h1v2h-1zM1198 418h1v1h-1zM1247 409h1v1h-1zM1250 407h1v1h-1zM1251 406h1v1h-1zM1254 404h1v1h-1zM1257 402h1v1h-1zM1262 399h1v1h-1zM1263 400h1v1h-1zM1264 401h1v2h-1zM1265 403h1v1h-1zM1266 404h1v1h-1zM1267 405h1v1h-1zM1268 406h1v2h-1zM1269 408h1v1h-1z" fill="#3cb371" shape-rendering="crispEdges"/>
<g shape-rendering="crispEdges">
<rect x="0" y="281" width="1651" height="2" fill="#ff0000"/>
<rect x="0" y="316" width="1651" height="2" fill="#ff0000"/>
<rect x="0" y="355" width="1651" height="2" fill="#ffa500"/>
<rect x="0" y="407" width="1651" height="2" fill="#0000ff"/>
<rect x="0" y="442" width="1651" height="2" fill="#0000ff"/>
</g>
<g shape-rendering="crispEdges">
<rect x="1650" y="28" width="2" height="1" fill="#000"/>
<rect x="1650" y="61" width="2" height="1" fill="#000"/>
<rect x="1650" y="94" width="2" height="1" fill="#000"/>
<rect x="1650" y="127" width="2" height="1" fill="#000"/>
<rect x="1650" y="160" width="2" height="1" fill="#000"/>
<rect x="1650" y="193" width="2" height="1" fill="#000"/>
<rect x="1650" y="226" width="2" height="1" fill="#000"/>
<rect x="1650" y="259" width="2" height="1" fill="#000"/>
<rect x="1650" y="292" width="2" height="1" fill="#000"/>
<rect x="1650" y="325" width="2" height="1" fill="#000"/>
<rect x="1650" y="358" width="2" height="1" fill="#000"/>
<rect x="1650" y="391" width="2" height="1" fill="#000"/>
<rect x="1650" y="424" width="2" height="1" fill="#000"/>
<rect x="1650" y="457" width="2" height="1" fill="#000"/>
<rect x="1650" y="490" width="2" height="1" fill="#000"/>
<rect x="1650" y="523" width="2" height="1" fill="#000"/>
<rect x="1650" y="556" width="2" height="1" fill="#000"/>
<rect x="1650" y="589" width="2" height="1" fill="#000"/>
<rect x="1650" y="622" width="2" height="1" fill="#000"/>
</g>
<text x="1655.2" y="32.0" font-size="9.7" fill="#000" text-anchor="start" textLength="32.6" lengthAdjust="spacingAndGlyphs" xml:space="preserve">1.26970</text>
<text x="1655.2" y="65.0" font-size="9.7" fill="#000" text-anchor="start" textLength="32.6" lengthAdjust="spacingAndGlyphs" xml:space="preserve">1.26540</text>
<text x="1655.2" y="98.0" font-size="9.7" fill="#000" text-anchor="start" textLength="32.6" lengthAdjust="spacingAndGlyphs" xml:space="preserve">1.26100</text>
<text x="1655.2" y="131.0" font-size="9.7" fill="#000" text-anchor="start" textLength="32.6" lengthAdjust="spacingAndGlyphs" xml:space="preserve">1.25670</text>
<text x="1655.2" y="164.0" font-size="9.7" fill="#000" text-anchor="start" textLength="32.6" lengthAdjust="spacingAndGlyphs" xml:space="preserve">1.25240</text>
<text x="1655.2" y="197.0" font-size="9.7" fill="#000" text-anchor="start" textLength="32.6" lengthAdjust="spacingAndGlyphs" xml:space="preserve">1.24800</text>
<text x="1655.2" y="230.0" font-size="9.7" fill="#000" text-anchor="start" textLength="32.6" lengthAdjust="spacingAndGlyphs" xml:space="preserve">1.24370</text>
<text x="1655.2" y="263.0" font-size="9.7" fill="#000" text-anchor="start" textLength="32.6" lengthAdjust="spacingAndGlyphs" xml:space="preserve">1.23940</text>
<text x="1655.2" y="296.0" font-size="9.7" fill="#000" text-anchor="start" textLength="32.6" lengthAdjust="spacingAndGlyphs" xml:space="preserve">1.23500</text>
<text x="1655.2" y="329.0" font-size="9.7" fill="#000" text-anchor="start" textLength="32.6" lengthAdjust="spacingAndGlyphs" xml:space="preserve">1.23070</text>
<text x="1655.2" y="362.0" font-size="9.7" fill="#000" text-anchor="start" textLength="32.6" lengthAdjust="spacingAndGlyphs" xml:space="preserve">1.22640</text>
<text x="1655.2" y="395.0" font-size="9.7" fill="#000" text-anchor="start" textLength="32.6" lengthAdjust="spacingAndGlyphs" xml:space="preserve">1.22200</text>
<text x="1655.2" y="428.0" font-size="9.7" fill="#000" text-anchor="start" textLength="32.6" lengthAdjust="spacingAndGlyphs" xml:space="preserve">1.21770</text>
<text x="1655.2" y="461.0" font-size="9.7" fill="#000" text-anchor="start" textLength="32.6" lengthAdjust="spacingAndGlyphs" xml:space="preserve">1.21340</text>
<text x="1655.2" y="494.0" font-size="9.7" fill="#000" text-anchor="start" textLength="32.6" lengthAdjust="spacingAndGlyphs" xml:space="preserve">1.20900</text>
<text x="1655.2" y="527.0" font-size="9.7" fill="#000" text-anchor="start" textLength="32.6" lengthAdjust="spacingAndGlyphs" xml:space="preserve">1.20470</text>
<text x="1655.2" y="560.0" font-size="9.7" fill="#000" text-anchor="start" textLength="32.6" lengthAdjust="spacingAndGlyphs" xml:space="preserve">1.20040</text>
<text x="1655.2" y="593.0" font-size="9.7" fill="#000" text-anchor="start" textLength="32.6" lengthAdjust="spacingAndGlyphs" xml:space="preserve">1.19600</text>
<text x="1655.2" y="626.0" font-size="9.7" fill="#000" text-anchor="start" textLength="32.6" lengthAdjust="spacingAndGlyphs" xml:space="preserve">1.19170</text>
<rect x="1651" y="276" width="41" height="11" fill="#ff0000" shape-rendering="crispEdges"/>
<text x="1655.4" y="284.9" font-size="9.7" fill="#fff" text-anchor="start" textLength="32.7" lengthAdjust="spacingAndGlyphs" xml:space="preserve">1.23636</text>
<rect x="1651" y="311" width="41" height="11" fill="#ff0000" shape-rendering="crispEdges"/>
<text x="1655.4" y="319.9" font-size="9.7" fill="#fff" text-anchor="start" textLength="32.7" lengthAdjust="spacingAndGlyphs" xml:space="preserve">1.23177</text>
<rect x="1651" y="350" width="41" height="11" fill="#ffa500" shape-rendering="crispEdges"/>
<text x="1655.4" y="358.9" font-size="9.7" fill="#fff" text-anchor="start" textLength="32.7" lengthAdjust="spacingAndGlyphs" xml:space="preserve">1.22666</text>
<rect x="1651" y="364" width="41" height="11" fill="#000000" shape-rendering="crispEdges"/>
<text x="1655.4" y="372.9" font-size="9.7" fill="#fff" text-anchor="start" textLength="32.7" lengthAdjust="spacingAndGlyphs" xml:space="preserve">1.22495</text>
<rect x="1651" y="402" width="41" height="11" fill="#0000ff" shape-rendering="crispEdges"/>
<text x="1655.4" y="410.9" font-size="9.7" fill="#fff" text-anchor="start" textLength="32.7" lengthAdjust="spacingAndGlyphs" xml:space="preserve">1.21984</text>
<rect x="1651" y="437" width="41" height="11" fill="#0000ff" shape-rendering="crispEdges"/>
<text x="1655.4" y="445.9" font-size="9.7" fill="#fff" text-anchor="start" textLength="32.7" lengthAdjust="spacingAndGlyphs" xml:space="preserve">1.21525</text>
<text x="5.3" y="34.4" font-size="10" fill="#000" text-anchor="start" textLength="56.6" lengthAdjust="spacingAndGlyphs" xml:space="preserve">GBPUSD-,H4</text>
<text x="68.6" y="34.4" font-size="10" fill="#000" text-anchor="start" textLength="32.2" lengthAdjust="spacingAndGlyphs" xml:space="preserve">1.22645</text>
<text x="104.4" y="34.4" font-size="10" fill="#000" text-anchor="start" textLength="32.3" lengthAdjust="spacingAndGlyphs" xml:space="preserve">1.22653</text>
<text x="140.6" y="34.4" font-size="10" fill="#000" text-anchor="start" textLength="31.9" lengthAdjust="spacingAndGlyphs" xml:space="preserve">1.22495</text>
<text x="176.5" y="34.4" font-size="10" fill="#000" text-anchor="start" textLength="32.2" lengthAdjust="spacingAndGlyphs" xml:space="preserve">1.22495</text>
<path d="M1310 22h11v1h-11zM1311 23h9v1h-9zM1312 24h7v1h-7zM1313 25h5v1h-5zM1314 26h3v1h-3zM1315 27h1v1h-1z" fill="#000" shape-rendering="crispEdges"/>
<g shape-rendering="crispEdges" clip-path="url(#cd)">
<rect x="5" y="638" width="3" height="39" fill="#00ff00"/>
<rect x="13" y="638" width="3" height="39" fill="#00ff00"/>
<rect x="21" y="639" width="3" height="38" fill="#00ff00"/>
<rect x="29" y="641" width="3" height="36" fill="#00ff00"/>
<rect x="37" y="644" width="3" height="33" fill="#00ff00"/>
<rect x="45" y="650" width="3" height="27" fill="#00ff00"/>
<rect x="53" y="655" width="3" height="22" fill="#00ff00"/>
<rect x="61" y="657" width="3" height="20" fill="#00ff00"/>
<rect x="69" y="659" width="3" height="18" fill="#00ff00"/>
<rect x="77" y="657" width="3" height="20" fill="#00ff00"/>
<rect x="85" y="651" width="3" height="26" fill="#00ff00"/>
<rect x="93" y="648" width="3" height="29" fill="#00ff00"/>
<rect x="101" y="647" width="3" height="30" fill="#00ff00"/>
<rect x="109" y="648" width="3" height="29" fill="#00ff00"/>
<rect x="117" y="648" width="3" height="29" fill="#00ff00"/>
<rect x="125" y="648" width="3" height="29" fill="#00ff00"/>
<rect x="133" y="647" width="3" height="30" fill="#00ff00"/>
<rect x="141" y="648" width="3" height="29" fill="#00ff00"/>
<rect x="149" y="647" width="3" height="30" fill="#00ff00"/>
<rect x="157" y="644" width="3" height="33" fill="#00ff00"/>
<rect x="165" y="642" width="3" height="35" fill="#00ff00"/>
<rect x="173" y="639" width="3" height="38" fill="#00ff00"/>
<rect x="181" y="637" width="3" height="40" fill="#00ff00"/>
<rect x="189" y="636" width="3" height="41" fill="#00ff00"/>
<rect x="197" y="636" width="3" height="41" fill="#00ff00"/>
<rect x="205" y="636" width="3" height="41" fill="#00ff00"/>
<rect x="213" y="636" width="3" height="41" fill="#00ff00"/>
<rect x="221" y="642" width="3" height="35" fill="#00ff00"/>
<rect x="229" y="644" width="3" height="33" fill="#00ff00"/>
<rect x="237" y="647" width="3" height="30" fill="#00ff00"/>
<rect x="245" y="649" width="3" height="28" fill="#00ff00"/>
<rect x="253" y="651" width="3" height="26" fill="#00ff00"/>
<rect x="261" y="652" width="3" height="25" fill="#00ff00"/>
<rect x="269" y="657" width="3" height="20" fill="#00ff00"/>
<rect x="277" y="658" width="3" height="19" fill="#00ff00"/>
<rect x="285" y="657" width="3" height="20" fill="#00ff00"/>
<rect x="293" y="655" width="3" height="22" fill="#00ff00"/>
<rect x="301" y="654" width="3" height="23" fill="#00ff00"/>
<rect x="309" y="654" width="3" height="23" fill="#00ff00"/>
<rect x="317" y="653" width="3" height="24" fill="#00ff00"/>
<rect x="325" y="654" width="3" height="23" fill="#00ff00"/>
<rect x="333" y="653" width="3" height="24" fill="#00ff00"/>
<rect x="341" y="652" width="3" height="25" fill="#00ff00"/>
<rect x="349" y="649" width="3" height="28" fill="#00ff00"/>
<rect x="357" y="649" width="3" height="28" fill="#00ff00"/>
<rect x="365" y="650" width="3" height="27" fill="#00ff00"/>
<rect x="373" y="652" width="3" height="25" fill="#00ff00"/>
<rect x="381" y="651" width="3" height="26" fill="#00ff00"/>
<rect x="389" y="651" width="3" height="26" fill="#00ff00"/>
<rect x="397" y="651" width="3" height="26" fill="#00ff00"/>
<rect x="405" y="653" width="3" height="24" fill="#00ff00"/>
<rect x="413" y="652" width="3" height="25" fill="#00ff00"/>
<rect x="421" y="652" width="3" height="25" fill="#00ff00"/>
<rect x="429" y="652" width="3" height="25" fill="#00ff00"/>
<rect x="437" y="653" width="3" height="24" fill="#00ff00"/>
<rect x="445" y="656" width="3" height="21" fill="#00ff00"/>
<rect x="453" y="659" width="3" height="18" fill="#00ff00"/>
<rect x="461" y="662" width="3" height="15" fill="#00ff00"/>
<rect x="469" y="663" width="3" height="14" fill="#00ff00"/>
<rect x="477" y="665" width="3" height="12" fill="#00ff00"/>
<rect x="485" y="667" width="3" height="10" fill="#00ff00"/>
<rect x="493" y="669" width="3" height="8" fill="#00ff00"/>
<rect x="501" y="671" width="3" height="6" fill="#00ff00"/>
<rect x="509" y="674" width="3" height="3" fill="#00ff00"/>
<rect x="517" y="677" width="3" height="6" fill="#00ff00"/>
<rect x="525" y="677" width="3" height="12" fill="#00ff00"/>
<rect x="533" y="677" width="3" height="17" fill="#00ff00"/>
<rect x="541" y="677" width="3" height="21" fill="#00ff00"/>
<rect x="549" y="677" width="3" height="20" fill="#00ff00"/>
<rect x="557" y="677" width="3" height="18" fill="#00ff00"/>
<rect x="565" y="677" width="3" height="16" fill="#00ff00"/>
<rect x="573" y="677" width="3" height="13" fill="#00ff00"/>
<rect x="581" y="677" width="3" height="10" fill="#00ff00"/>
<rect x="589" y="677" width="3" height="8" fill="#00ff00"/>
<rect x="597" y="677" width="3" height="7" fill="#00ff00"/>
<rect x="605" y="677" width="3" height="6" fill="#00ff00"/>
<rect x="613" y="677" width="3" height="10" fill="#00ff00"/>
<rect x="621" y="677" width="3" height="13" fill="#00ff00"/>
<rect x="629" y="677" width="3" height="15" fill="#00ff00"/>
<rect x="637" y="677" width="3" height="16" fill="#00ff00"/>
<rect x="645" y="677" width="3" height="14" fill="#00ff00"/>
<rect x="653" y="677" width="3" height="10" fill="#00ff00"/>
<rect x="661" y="677" width="3" height="10" fill="#00ff00"/>
<rect x="669" y="677" width="3" height="9" fill="#00ff00"/>
<rect x="677" y="677" width="3" height="9" fill="#00ff00"/>
<rect x="685" y="677" width="3" height="10" fill="#00ff00"/>
<rect x="693" y="677" width="3" height="13" fill="#00ff00"/>
<rect x="701" y="677" width="3" height="14" fill="#00ff00"/>
<rect x="709" y="677" width="3" height="8" fill="#00ff00"/>
<rect x="717" y="677" width="3" height="4" fill="#00ff00"/>
<rect x="725" y="676" width="3" height="1" fill="#00ff00"/>
<rect x="733" y="675" width="3" height="2" fill="#00ff00"/>
<rect x="741" y="676" width="3" height="1" fill="#00ff00"/>
<rect x="749" y="676" width="3" height="1" fill="#00ff00"/>
<rect x="757" y="675" width="3" height="2" fill="#00ff00"/>
<rect x="765" y="676" width="3" height="1" fill="#00ff00"/>
<rect x="773" y="676" width="3" height="1" fill="#00ff00"/>
<rect x="781" y="676" width="3" height="1" fill="#00ff00"/>
<rect x="789" y="677" width="3" height="4" fill="#00ff00"/>
<rect x="797" y="677" width="3" height="4" fill="#00ff00"/>
<rect x="805" y="677" width="3" height="6" fill="#00ff00"/>
<rect x="813" y="677" width="3" height="8" fill="#00ff00"/>
<rect x="821" y="677" width="3" height="10" fill="#00ff00"/>
<rect x="829" y="677" width="3" height="11" fill="#00ff00"/>
<rect x="837" y="677" width="3" height="13" fill="#00ff00"/>
<rect x="845" y="677" width="3" height="17" fill="#00ff00"/>
<rect x="853" y="677" width="3" height="27" fill="#00ff00"/>
<rect x="861" y="677" width="3" height="35" fill="#00ff00"/>
<rect x="869" y="677" width="3" height="43" fill="#00ff00"/>
<rect x="877" y="677" width="3" height="49" fill="#00ff00"/>
<rect x="885" y="677" width="3" height="56" fill="#00ff00"/>
<rect x="893" y="677" width="3" height="65" fill="#00ff00"/>
<rect x="901" y="677" width="3" height="72" fill="#00ff00"/>
<rect x="909" y="677" width="3" height="79" fill="#00ff00"/>
<rect x="917" y="677" width="3" height="82" fill="#00ff00"/>
<rect x="925" y="677" width="3" height="82" fill="#00ff00"/>
<rect x="933" y="677" width="3" height="80" fill="#00ff00"/>
<rect x="941" y="677" width="3" height="85" fill="#00ff00"/>
<rect x="949" y="677" width="3" height="92" fill="#00ff00"/>
<rect x="957" y="677" width="3" height="98" fill="#00ff00"/>
<rect x="965" y="677" width="3" height="99" fill="#00ff00"/>
<rect x="973" y="677" width="3" height="99" fill="#00ff00"/>
<rect x="981" y="677" width="3" height="97" fill="#00ff00"/>
<rect x="989" y="677" width="3" height="89" fill="#00ff00"/>
<rect x="997" y="677" width="3" height="86" fill="#00ff00"/>
<rect x="1005" y="677" width="3" height="74" fill="#00ff00"/>
<rect x="1013" y="677" width="3" height="64" fill="#00ff00"/>
<rect x="1021" y="677" width="3" height="57" fill="#00ff00"/>
<rect x="1029" y="677" width="3" height="55" fill="#00ff00"/>
<rect x="1037" y="677" width="3" height="51" fill="#00ff00"/>
<rect x="1045" y="677" width="3" height="33" fill="#00ff00"/>
<rect x="1053" y="677" width="3" height="18" fill="#00ff00"/>
<rect x="1061" y="677" width="3" height="6" fill="#00ff00"/>
<rect x="1069" y="677" width="3" height="1" fill="#00ff00"/>
<rect x="1077" y="672" width="3" height="5" fill="#00ff00"/>
<rect x="1085" y="671" width="3" height="6" fill="#00ff00"/>
<rect x="1093" y="674" width="3" height="3" fill="#00ff00"/>
<rect x="1101" y="675" width="3" height="2" fill="#00ff00"/>
<rect x="1109" y="676" width="3" height="1" fill="#00ff00"/>
<rect x="1117" y="675" width="3" height="2" fill="#00ff00"/>
<rect x="1125" y="674" width="3" height="3" fill="#00ff00"/>
<rect x="1133" y="673" width="3" height="4" fill="#00ff00"/>
<rect x="1141" y="673" width="3" height="4" fill="#00ff00"/>
<rect x="1149" y="672" width="3" height="5" fill="#00ff00"/>
<rect x="1157" y="672" width="3" height="5" fill="#00ff00"/>
<rect x="1165" y="670" width="3" height="7" fill="#00ff00"/>
<rect x="1173" y="667" width="3" height="10" fill="#00ff00"/>
<rect x="1181" y="667" width="3" height="10" fill="#00ff00"/>
<rect x="1189" y="667" width="3" height="10" fill="#00ff00"/>
<rect x="1197" y="667" width="3" height="10" fill="#00ff00"/>
<rect x="1205" y="668" width="3" height="9" fill="#00ff00"/>
<rect x="1213" y="669" width="3" height="8" fill="#00ff00"/>
<rect x="1221" y="674" width="3" height="3" fill="#00ff00"/>
<rect x="1229" y="675" width="3" height="2" fill="#00ff00"/>
<rect x="1237" y="673" width="3" height="4" fill="#00ff00"/>
<rect x="1245" y="673" width="3" height="4" fill="#00ff00"/>
<rect x="1253" y="673" width="3" height="4" fill="#00ff00"/>
<rect x="1261" y="673" width="3" height="4" fill="#00ff00"/>
<rect x="1269" y="677" width="3" height="3" fill="#00ff00"/>
<rect x="1277" y="677" width="3" height="4" fill="#00ff00"/>
<rect x="1285" y="677" width="3" height="3" fill="#00ff00"/>
<rect x="1293" y="677" width="3" height="2" fill="#00ff00"/>
<rect x="1301" y="677" width="3" height="1" fill="#00ff00"/>
</g>
<polyline points="0.0,671.7 8.0,665.1 16.0,659.1 24.1,654.1 32.1,649.1 39.1,645.4 48.1,644.0 55.1,644.4 64.2,646.0 72.2,648.5 80.2,650.1 90.2,651.1 100.2,652.1 110.3,652.7 120.3,652.5 130.3,651.1 140.3,650.1 150.4,648.5 158.4,647.5 166.4,646.0 176.4,645.6 184.4,644.0 197.5,642.6 206.5,640.0 215.5,639.0 237.6,639.0 246.6,640.4 256.6,643.4 266.6,645.6 276.7,648.1 286.7,651.7 296.7,652.7 308.7,654.7 320.8,655.1 338.8,655.1 340.0,655.1 350.0,653.1 366.1,652.7 383.1,651.1 414.2,651.1 438.2,652.1 454.3,652.7 462.3,655.7 478.3,657.1 490.4,660.1 510.4,665.1 520.4,668.5 530.4,673.1 540.5,677.7 550.5,682.5 558.5,685.5 568.5,688.1 578.6,690.6 597.6,690.6 606.6,689.1 624.7,686.7 660.8,686.7 670.8,687.7 678.8,687.7 680.0,688.1 710.1,687.7 726.1,685.1 742.1,682.1 764.2,679.7 776.2,677.1 788.3,675.7 800.3,677.7 820.3,679.7 830.4,680.7 846.4,684.1 856.4,688.1 870.4,695.2 880.5,701.2 890.5,707.2 900.5,715.2 910.5,724.2 920.6,732.2 930.6,740.3 940.6,746.3 950.6,753.3 960.7,759.3 970.7,762.9 980.7,765.9 990.7,767.7 1004.8,767.7 1012.8,765.7 1018.8,763.3 1020.0,762.9 1030.0,756.3 1039.0,751.3 1050.1,740.3 1060.1,728.2 1068.1,718.2 1076.1,709.2 1082.1,703.2 1090.2,696.6 1100.2,689.1 1110.2,682.1 1118.2,677.7 1126.2,675.1 1136.3,674.1 1164.3,673.7 1176.4,672.7 1190.4,671.7 1200.4,669.7 1210.4,668.7 1229.5,668.7 1236.5,669.7 1246.5,670.1 1260.6,672.1 1270.6,673.5 1282.6,675.7 1302.7,676.1" fill="none" stroke="#ff0000" stroke-width="2" clip-path="url(#cd)" stroke-linejoin="round" shape-rendering="crispEdges"/>
<text x="-6.5" y="640.0" font-size="9.7" fill="#000" text-anchor="start" textLength="65.9" lengthAdjust="spacingAndGlyphs" xml:space="preserve">MACD(12,26,9)</text>
<text x="63.7" y="640.0" font-size="9.7" fill="#000" text-anchor="start" textLength="40.3" lengthAdjust="spacingAndGlyphs" xml:space="preserve">-0.000004</text>
<text x="107.5" y="640.0" font-size="9.7" fill="#000" text-anchor="start" textLength="37.1" lengthAdjust="spacingAndGlyphs" xml:space="preserve">0.000120</text>
<g shape-rendering="crispEdges">
<rect x="1650" y="629" width="1" height="1" fill="#000"/>
<rect x="1650" y="677" width="2" height="1" fill="#000"/>
<rect x="1650" y="781" width="1" height="1" fill="#000"/>
</g>
<text x="1653.4" y="637.8" font-size="9.7" fill="#000" text-anchor="start" textLength="37.2" lengthAdjust="spacingAndGlyphs" xml:space="preserve">0.006114</text>
<text x="1653.4" y="680.9" font-size="9.7" fill="#000" text-anchor="start" textLength="17.4" lengthAdjust="spacingAndGlyphs" xml:space="preserve">0.00</text>
<text x="1653.4" y="780.6" font-size="9.7" fill="#000" text-anchor="start" textLength="39.9" lengthAdjust="spacingAndGlyphs" xml:space="preserve">-0.013241</text>
<g shape-rendering="crispEdges">
<line x1="3" y1="814.5" x2="1649" y2="814.5" stroke="#000" stroke-width="1" stroke-dasharray="3,3"/>
<line x1="3" y1="854.5" x2="1649" y2="854.5" stroke="#000" stroke-width="1" stroke-dasharray="3,3"/>
<line x1="3" y1="902.5" x2="1649" y2="902.5" stroke="#000" stroke-width="1" stroke-dasharray="3,3"/>
<rect x="1650" y="787" width="1" height="1" fill="#000"/>
<rect x="1650" y="921" width="1" height="1" fill="#000"/>
</g>
<polyline points="0.0,822.8 7.5,822.8 13.8,827.8 22.5,845.8 30.0,842.8 37.5,847.8 45.0,856.5 55.0,857.0 63.8,849.8 71.2,849.8 86.2,834.0 93.8,834.0 102.5,841.5 108.8,844.0 112.5,844.0 117.5,842.0 127.5,842.0 133.8,838.5 136.2,838.5 142.0,843.5 150.0,838.5 158.8,833.2 166.2,832.8 172.5,829.8 192.5,829.8 196.2,831.5 210.0,831.5 213.8,830.2 222.5,852.0 230.0,844.8 236.2,845.8 262.5,845.8 270.5,857.2 278.8,847.0 286.2,841.0 295.0,840.2 303.8,838.5 318.8,838.5 326.2,842.0 335.0,839.0 343.8,835.2 350.0,830.2 358.8,839.8 366.2,840.2 375.0,841.0 382.5,838.5 391.2,838.5 397.5,834.5 406.2,843.2 415.0,839.0 422.5,835.8 424.0,835.8 430.2,835.8 439.0,840.8 446.5,850.2 454.0,852.0 462.8,858.2 469.8,849.0 479.0,855.2 485.2,852.8 487.8,852.8 494.0,857.0 501.5,857.0 510.2,863.2 518.5,882.2 527.0,878.2 534.0,878.2 542.8,878.2 550.2,864.0 559.0,856.5 567.8,856.5 575.2,852.0 585.2,852.0 591.5,853.2 600.2,853.2 606.5,857.8 614.5,872.0 621.5,869.8 629.0,872.0 637.8,871.0 646.5,855.2 654.0,849.8 662.8,857.0 670.2,858.2 677.8,861.5 685.2,864.0 694.0,870.2 702.8,866.0 710.2,843.5 716.5,842.8 726.5,845.2 734.0,850.2 741.5,854.8 749.0,854.8 756.5,851.5 760.2,851.5 766.5,857.0 782.8,857.0 790.2,867.0 798.2,856.0 805.2,861.0 814.0,866.0 821.5,866.0 824.0,864.8 831.5,864.8 840.2,872.2 847.0,878.0 848.0,878.5 854.2,890.2 861.8,891.5 870.0,894.0 878.0,890.8 885.5,894.0 894.2,899.0 901.8,897.8 910.5,900.2 918.8,895.2 926.8,885.8 934.2,885.8 942.5,894.8 950.5,897.8 958.0,899.5 966.8,893.2 974.2,890.2 982.2,889.0 990.0,871.5 998.0,876.5 1006.0,857.8 1013.0,857.8 1021.8,860.2 1030.5,868.2 1038.5,862.8 1046.8,841.0 1053.0,839.5 1061.8,839.5 1070.5,847.8 1079.2,847.8 1085.5,851.0 1094.2,858.2 1101.8,858.2 1109.2,855.8 1116.8,852.8 1119.2,852.8 1125.5,855.2 1134.2,852.0 1153.0,852.0 1158.0,853.5 1166.8,848.2 1174.2,847.0 1181.8,851.0 1198.0,851.0 1200.0,852.1 1206.0,852.1 1214.2,856.6 1222.4,864.3 1230.7,855.8 1238.2,849.8 1241.1,849.8 1246.4,852.5 1251.6,853.6 1263.6,853.6 1270.6,867.0 1278.5,857.3 1286.0,855.8 1293.5,852.1 1298.0,852.1 1300.2,853.1 1302.5,852.8" fill="none" stroke="#1e90ff" stroke-width="2" clip-path="url(#cr)" stroke-linejoin="round" shape-rendering="crispEdges"/>
<text x="-6.0" y="798.0" font-size="9.7" fill="#000" text-anchor="start" textLength="31.0" lengthAdjust="spacingAndGlyphs" xml:space="preserve">RSI(14)</text>
<text x="29.5" y="798.0" font-size="9.7" fill="#000" text-anchor="start" textLength="31.7" lengthAdjust="spacingAndGlyphs" xml:space="preserve">50.7667</text>
<text x="1653.4" y="796.2" font-size="9.7" fill="#000" text-anchor="start" textLength="13.9" lengthAdjust="spacingAndGlyphs" xml:space="preserve">100</text>
<text x="1652.2" y="818.0" font-size="9.7" fill="#000" text-anchor="start" textLength="9.6" lengthAdjust="spacingAndGlyphs" xml:space="preserve">80</text>
<text x="1652.2" y="857.8" font-size="9.7" fill="#000" text-anchor="start" textLength="9.6" lengthAdjust="spacingAndGlyphs" xml:space="preserve">50</text>
<text x="1652.2" y="906.2" font-size="9.7" fill="#000" text-anchor="start" textLength="9.6" lengthAdjust="spacingAndGlyphs" xml:space="preserve">15</text>
<text x="1653.4" y="919.7" font-size="9.7" fill="#000" text-anchor="start" textLength="4.7" lengthAdjust="spacingAndGlyphs" xml:space="preserve">0</text>
<g shape-rendering="crispEdges">
<rect x="54" y="924" width="1" height="3" fill="#000"/>
<rect x="118" y="924" width="1" height="3" fill="#000"/>
<rect x="182" y="924" width="1" height="3" fill="#000"/>
<rect x="246" y="924" width="1" height="3" fill="#000"/>
<rect x="310" y="924" width="1" height="3" fill="#000"/>
<rect x="374" y="924" width="1" height="3" fill="#000"/>
<rect x="438" y="924" width="1" height="3" fill="#000"/>
<rect x="502" y="924" width="1" height="3" fill="#000"/>
<rect x="566" y="924" width="1" height="3" fill="#000"/>
<rect x="630" y="924" width="1" height="3" fill="#000"/>
<rect x="694" y="924" width="1" height="3" fill="#000"/>
<rect x="758" y="924" width="1" height="3" fill="#000"/>
<rect x="822" y="924" width="1" height="3" fill="#000"/>
<rect x="886" y="924" width="1" height="3" fill="#000"/>
<rect x="950" y="924" width="1" height="3" fill="#000"/>
<rect x="1014" y="924" width="1" height="3" fill="#000"/>
<rect x="1078" y="924" width="1" height="3" fill="#000"/>
<rect x="1142" y="924" width="1" height="3" fill="#000"/>
<rect x="1206" y="924" width="1" height="3" fill="#000"/>
<rect x="1270" y="924" width="1" height="3" fill="#000"/>
</g>
<text x="-10.4" y="935.7" font-size="9.7" fill="#000" text-anchor="start" textLength="54.0" lengthAdjust="spacingAndGlyphs" xml:space="preserve">17 May 2022</text>
<text x="53.6" y="935.7" font-size="9.7" fill="#000" text-anchor="start" textLength="57.0" lengthAdjust="spacingAndGlyphs" xml:space="preserve">18 May 20:00</text>
<text x="117.6" y="935.7" font-size="9.7" fill="#000" text-anchor="start" textLength="57.0" lengthAdjust="spacingAndGlyphs" xml:space="preserve">20 May 04:00</text>
<text x="181.6" y="935.7" font-size="9.7" fill="#000" text-anchor="start" textLength="57.0" lengthAdjust="spacingAndGlyphs" xml:space="preserve">23 May 12:00</text>
<text x="245.6" y="935.7" font-size="9.7" fill="#000" text-anchor="start" textLength="57.0" lengthAdjust="spacingAndGlyphs" xml:space="preserve">24 May 20:00</text>
<text x="309.6" y="935.7" font-size="9.7" fill="#000" text-anchor="start" textLength="57.0" lengthAdjust="spacingAndGlyphs" xml:space="preserve">26 May 04:00</text>
<text x="373.6" y="935.7" font-size="9.7" fill="#000" text-anchor="start" textLength="57.0" lengthAdjust="spacingAndGlyphs" xml:space="preserve">27 May 12:00</text>
<text x="437.6" y="935.7" font-size="9.7" fill="#000" text-anchor="start" textLength="57.0" lengthAdjust="spacingAndGlyphs" xml:space="preserve">30 May 20:00</text>
<text x="501.6" y="935.7" font-size="9.7" fill="#000" text-anchor="start" textLength="47.4" lengthAdjust="spacingAndGlyphs" xml:space="preserve">1 Jun 04:00</text>
<text x="565.6" y="935.7" font-size="9.7" fill="#000" text-anchor="start" textLength="47.4" lengthAdjust="spacingAndGlyphs" xml:space="preserve">2 Jun 12:00</text>
<text x="629.6" y="935.7" font-size="9.7" fill="#000" text-anchor="start" textLength="47.4" lengthAdjust="spacingAndGlyphs" xml:space="preserve">5 Jun 23:00</text>
<text x="693.6" y="935.7" font-size="9.7" fill="#000" text-anchor="start" textLength="47.4" lengthAdjust="spacingAndGlyphs" xml:space="preserve">7 Jun 04:00</text>
<text x="757.6" y="935.7" font-size="9.7" fill="#000" text-anchor="start" textLength="47.4" lengthAdjust="spacingAndGlyphs" xml:space="preserve">8 Jun 12:00</text>
<text x="821.6" y="935.7" font-size="9.7" fill="#000" text-anchor="start" textLength="47.4" lengthAdjust="spacingAndGlyphs" xml:space="preserve">9 Jun 20:00</text>
<text x="885.6" y="935.7" font-size="9.7" fill="#000" text-anchor="start" textLength="52.2" lengthAdjust="spacingAndGlyphs" xml:space="preserve">13 Jun 04:00</text>
<text x="949.6" y="935.7" font-size="9.7" fill="#000" text-anchor="start" textLength="52.2" lengthAdjust="spacingAndGlyphs" xml:space="preserve">14 Jun 12:00</text>
<text x="1013.6" y="935.7" font-size="9.7" fill="#000" text-anchor="start" textLength="52.2" lengthAdjust="spacingAndGlyphs" xml:space="preserve">15 Jun 20:00</text>
<text x="1077.6" y="935.7" font-size="9.7" fill="#000" text-anchor="start" textLength="52.2" lengthAdjust="spacingAndGlyphs" xml:space="preserve">17 Jun 04:00</text>
<text x="1141.6" y="935.7" font-size="9.7" fill="#000" text-anchor="start" textLength="52.2" lengthAdjust="spacingAndGlyphs" xml:space="preserve">20 Jun 12:00</text>
<text x="1205.6" y="935.7" font-size="9.7" fill="#000" text-anchor="start" textLength="52.2" lengthAdjust="spacingAndGlyphs" xml:space="preserve">21 Jun 20:00</text>
<text x="1269.6" y="935.7" font-size="9.7" fill="#000" text-anchor="start" textLength="52.2" lengthAdjust="spacingAndGlyphs" xml:space="preserve">23 Jun 04:00</text>
<g id="toolbar">
<defs><pattern id="dith" width="2" height="2" patternUnits="userSpaceOnUse"><rect width="2" height="2" fill="#fff"/><rect x="0" y="0" width="1" height="1" fill="#f0f0f0"/><rect x="1" y="1" width="1" height="1" fill="#f0f0f0"/></pattern><linearGradient id="gplus" x1="0" y1="0" x2="0" y2="1"><stop offset="0" stop-color="#5cf05c"/><stop offset="1" stop-color="#0cae0c"/></linearGradient><linearGradient id="gold" x1="0" y1="0" x2="1" y2="1"><stop offset="0" stop-color="#f8dc60"/><stop offset="1" stop-color="#c88c18"/></linearGradient><linearGradient id="redb" x1="0" y1="0" x2="0" y2="1"><stop offset="0" stop-color="#e85030"/><stop offset="1" stop-color="#c82010"/></linearGradient><clipPath id="tbclip"><rect x="0" y="0" width="1696" height="17"/></clipPath></defs>
<rect x="0" y="0" width="1696" height="17" fill="#f0f0f0" shape-rendering="crispEdges"/>
<g clip-path="url(#tbclip)">
<polygon points="0,11 3,14 1,15.5 0,15.5" fill="#d8a020"/>
<rect x="10" y="0" width="1" height="16" fill="#a0a0a0" shape-rendering="crispEdges"/>
<path d="M20.3,-2h8.5l3.3,3.3v10h-11.8z" fill="#fff" stroke="#8a8a8a" stroke-width="1"/>
<rect x="22.8" y="3.5" width="5" height="1" fill="#999"/><rect x="22.8" y="6" width="5" height="1" fill="#999"/>
<path d="M28.2,4.500000000000001h4v3.8h3.8v4h-3.8v3.8h-4v-3.8h-3.8v-4h3.8z" fill="url(#gplus)" stroke="#0a8a0a" stroke-width="0.8"/>
<text x="38.6" y="9.4" font-size="12" fill="#000" stroke="#000" stroke-width="0.25">新订单</text>
<polygon points="87,7.4 94,-0.8 103,6 95.5,12.6" fill="url(#gold)" stroke="#b88018" stroke-width="0.7"/>
<polyline points="87.6,8.6 95.5,13.7 102.8,7.2" fill="none" stroke="#a87010" stroke-width="1.1"/>
<rect x="117.6" y="-1" width="10.4" height="8" fill="#2a8cf0"/><rect x="121" y="1.5" width="6" height="1.6" fill="#d8ecff"/>
<path d="M118.5,13.6 a3.2,3.2 0 0 1 0.6,-6.3 a4,4 0 0 1 7.2,-0.6 a3.4,3.4 0 0 1 1.6,6.9z" fill="#eef2fa" stroke="#6c86b4" stroke-width="0.9"/>
<path d="M151,5.8 L151,13.6 A7.8,7.8 0 0 0 158.8,5.8 A7.8,7.8 0 0 0 151,-2z" fill="#9ccc9c"/>
<circle cx="151" cy="5.8" r="7.3" fill="none" stroke="#7da0e0" stroke-width="0.9"/>
<circle cx="151" cy="5.8" r="4.6" fill="none" stroke="#5c84dc" stroke-width="0.9"/>
<circle cx="151" cy="5.8" r="1.8" fill="#2c58d0"/>
<rect x="150.4" y="6" width="1.4" height="7.8" fill="#1e9a1e"/>
<ellipse cx="178" cy="1.6" rx="8" ry="3.2" fill="#3c9cd0"/><ellipse cx="178" cy="-0.5" rx="4.5" ry="3" fill="#58b4e0"/>
<polygon points="170.8,4.6 185.6,4.6 179.5,13.6 177,13.6" fill="#f4d848" stroke="#d0a020" stroke-width="0.6"/>
<circle cx="182.3" cy="9.8" r="4.1" fill="#e02010"/><rect x="180.9" y="8.4" width="2.8" height="2.8" fill="#fff"/>
<text x="191.9" y="9.4" font-size="12" fill="#000" stroke="#000" stroke-width="0.25">自动交易</text>
<rect x="246" y="0" width="1" height="17" fill="#a0a0a0" shape-rendering="crispEdges"/>
<rect x="247" y="0" width="1" height="17" fill="#fff" shape-rendering="crispEdges"/>
<rect x="250" y="0" width="3" height="1" fill="#a8a8a8" shape-rendering="crispEdges"/>
<rect x="250" y="2" width="3" height="1" fill="#a8a8a8" shape-rendering="crispEdges"/>
<rect x="250" y="4" width="3" height="1" fill="#a8a8a8" shape-rendering="crispEdges"/>
<rect x="250" y="6" width="3" height="1" fill="#a8a8a8" shape-rendering="crispEdges"/>
<rect x="250" y="8" width="3" height="1" fill="#a8a8a8" shape-rendering="crispEdges"/>
<rect x="250" y="10" width="3" height="1" fill="#a8a8a8" shape-rendering="crispEdges"/>
<rect x="250" y="12" width="3" height="1" fill="#a8a8a8" shape-rendering="crispEdges"/>
<rect x="250" y="14" width="3" height="1" fill="#a8a8a8" shape-rendering="crispEdges"/>
<g shape-rendering="crispEdges" fill="#555"><rect x="264" y="0" width="1" height="14"/><rect x="262" y="11" width="14" height="1"/><rect x="274" y="10" width="1" height="3"/><rect x="263" y="1" width="3" height="1"/></g>
<g shape-rendering="crispEdges" fill="#008000"><rect x="270" y="1" width="1" height="9"/><rect x="268" y="8" width="2" height="1"/><rect x="271" y="2" width="2" height="1"/></g>
<rect x="284" y="0" width="1" height="16" fill="#a0a0a0" shape-rendering="crispEdges"/>
<rect x="285" y="0" width="24" height="16" fill="url(#dith)" shape-rendering="crispEdges"/>
<rect x="284" y="16" width="26" height="1" fill="#fff" shape-rendering="crispEdges"/>
<g shape-rendering="crispEdges" fill="#555"><rect x="292" y="0" width="1" height="14"/><rect x="290" y="11" width="14" height="1"/><rect x="302" y="10" width="1" height="3"/><rect x="291" y="1" width="3" height="1"/></g>
<rect x="296.5" y="-1" width="5" height="8.6" fill="#48e048" stroke="#008000" stroke-width="1"/><rect x="298.5" y="7.6" width="1" height="2.2" fill="#008000"/>
<g shape-rendering="crispEdges" fill="#555"><rect x="320" y="0" width="1" height="14"/><rect x="318" y="11" width="14" height="1"/><rect x="330" y="10" width="1" height="3"/><rect x="319" y="1" width="3" height="1"/></g>
<path d="M319,8.6 Q323,2 325.5,3.2 T331,7.2" fill="none" stroke="#1c9a2c" stroke-width="1.1"/>
<rect x="341" y="0" width="1" height="16" fill="#a0a0a0" shape-rendering="crispEdges"/>
<line x1="359.9" y1="8.3" x2="365.09999999999997" y2="13" stroke="#a87810" stroke-width="3.4"/><line x1="360.09999999999997" y1="8.5" x2="364.9" y2="12.8" stroke="#f0cc30" stroke-width="1.8"/>
<circle cx="355.7" cy="3.9" r="5.5" fill="#d4ecfa" stroke="#3070c4" stroke-width="1.1"/>
<rect x="352.5" y="3.2" width="6.4" height="1.5" fill="#3078b0"/>
<rect x="354.95" y="0.7" width="1.5" height="6.4" fill="#3078b0"/>
<line x1="388.2" y1="8.3" x2="393.4" y2="13" stroke="#a87810" stroke-width="3.4"/><line x1="388.4" y1="8.5" x2="393.2" y2="12.8" stroke="#f0cc30" stroke-width="1.8"/>
<circle cx="384" cy="3.9" r="5.5" fill="#d4ecfa" stroke="#3070c4" stroke-width="1.1"/>
<rect x="380.8" y="3.2" width="6.4" height="1.5" fill="#3078b0"/>
<rect x="406.3" y="-2" width="7.8" height="7.6" rx="0.8" fill="#3c9c1c"/>
<rect x="407.6" y="1" width="5.2" height="3.4" fill="#fff"/><rect x="408.5" y="1.9" width="3.4" height="0.9" fill="#3c9c1c" opacity="0.45"/>
<rect x="414.3" y="-2" width="7.8" height="7.6" rx="0.8" fill="#2454cc"/>
<rect x="415.6" y="1" width="5.2" height="3.4" fill="#fff"/><rect x="416.5" y="1.9" width="3.4" height="0.9" fill="#2454cc" opacity="0.45"/>
<rect x="406.3" y="6.2" width="7.8" height="7.6" rx="0.8" fill="#2454cc"/>
<rect x="407.6" y="9.2" width="5.2" height="3.4" fill="#fff"/><rect x="408.5" y="10.1" width="3.4" height="0.9" fill="#2454cc" opacity="0.45"/>
<rect x="414.3" y="6.2" width="7.8" height="7.6" rx="0.8" fill="#3c9c1c"/>
<rect x="415.6" y="9.2" width="5.2" height="3.4" fill="#fff"/><rect x="416.5" y="10.1" width="3.4" height="0.9" fill="#3c9c1c" opacity="0.45"/>
<rect x="431" y="0" width="1" height="16" fill="#a0a0a0" shape-rendering="crispEdges"/>
<rect x="436" y="0" width="1" height="16" fill="#a0a0a0" shape-rendering="crispEdges"/>
<rect x="437" y="0" width="23" height="16" fill="url(#dith)" shape-rendering="crispEdges"/>
<rect x="436" y="16" width="25" height="1" fill="#fff" shape-rendering="crispEdges"/>
<g shape-rendering="crispEdges" fill="#555"><rect x="444" y="0" width="1" height="14"/><rect x="442" y="11" width="14" height="1"/><rect x="454" y="10" width="1" height="3"/><rect x="443" y="1" width="3" height="1"/></g>
<polygon points="449.2,2 449.2,8.7 453.4,5.3" fill="#58e058" stroke="#008000" stroke-width="1"/>
<rect x="464" y="0" width="1" height="16" fill="#a0a0a0" shape-rendering="crispEdges"/>
<rect x="465" y="0" width="24" height="16" fill="url(#dith)" shape-rendering="crispEdges"/>
<rect x="464" y="16" width="26" height="1" fill="#fff" shape-rendering="crispEdges"/>
<g shape-rendering="crispEdges" fill="#555"><rect x="472" y="0" width="1" height="14"/><rect x="470" y="11" width="14" height="1"/><rect x="482" y="10" width="1" height="3"/><rect x="471" y="1" width="3" height="1"/></g>
<rect x="478" y="0" width="1" height="10" fill="#2070b0" shape-rendering="crispEdges"/>
<polygon points="479.4,5.4 482.6,2.6 482.6,8.2" fill="#e05000"/><rect x="480" y="4.9" width="4.4" height="1" fill="#e05000"/>
<rect x="493" y="0" width="1" height="16" fill="#a0a0a0" shape-rendering="crispEdges"/>
<path d="M503.2,-2h8.5l3.3,3.3v10h-11.8z" fill="#fff" stroke="#8a8a8a" stroke-width="1"/>
<rect x="505.7" y="3.5" width="5" height="1" fill="#999"/><rect x="505.7" y="6" width="5" height="1" fill="#999"/>
<path d="M511.1,4.500000000000001h4v3.8h3.8v4h-3.8v3.8h-4v-3.8h-3.8v-4h3.8z" fill="url(#gplus)" stroke="#0a8a0a" stroke-width="0.8"/>
<polygon points="524.5,5 530.5,5 527.5,8.2" fill="#000"/>
<circle cx="549" cy="6.1" r="6.9" fill="#fff" stroke="#1260c4" stroke-width="2.6"/>
<path d="M549,2.4v4.2h3" fill="none" stroke="#333" stroke-width="1.1"/><rect x="548" y="8.4" width="2" height="0.8" fill="#8ab4f0"/>
<polygon points="563.5,5 569.5,5 566.5,8.2" fill="#000"/>
<rect x="580.5" y="-2" width="15" height="14.3" fill="#fff" stroke="#3070c0" stroke-width="1"/><rect x="581" y="-2" width="14" height="3.4" fill="#5c98e0"/><rect x="581" y="6.6" width="14" height="1" fill="#5c90d8"/>
<polyline points="582.5,5 584.5,5 586,3.6 587.5,3.2 589,4.4 591,4.2 592.5,3 594,3" fill="none" stroke="#a02000" stroke-width="1"/>
<polyline points="583,10.4 585,10.2 586.5,9.4 588,10.4 589.5,9.6 591,8.2 592.5,9.4 594,10.6" fill="none" stroke="#109010" stroke-width="1"/>
<polygon points="602.5,5 608.5,5 605.5,8.2" fill="#000"/>
<rect x="614" y="0" width="1" height="17" fill="#a0a0a0" shape-rendering="crispEdges"/>
<rect x="615" y="0" width="1" height="17" fill="#fff" shape-rendering="crispEdges"/>
<rect x="618" y="0" width="3" height="1" fill="#a8a8a8" shape-rendering="crispEdges"/>
<rect x="618" y="2" width="3" height="1" fill="#a8a8a8" shape-rendering="crispEdges"/>
<rect x="618" y="4" width="3" height="1" fill="#a8a8a8" shape-rendering="crispEdges"/>
<rect x="618" y="6" width="3" height="1" fill="#a8a8a8" shape-rendering="crispEdges"/>
<rect x="618" y="8" width="3" height="1" fill="#a8a8a8" shape-rendering="crispEdges"/>
<rect x="618" y="10" width="3" height="1" fill="#a8a8a8" shape-rendering="crispEdges"/>
<rect x="618" y="12" width="3" height="1" fill="#a8a8a8" shape-rendering="crispEdges"/>
<rect x="618" y="14" width="3" height="1" fill="#a8a8a8" shape-rendering="crispEdges"/>
<rect x="624" y="0" width="1" height="16" fill="#a0a0a0" shape-rendering="crispEdges"/>
<rect x="625" y="0" width="24" height="16" fill="url(#dith)" shape-rendering="crispEdges"/>
<rect x="624" y="16" width="26" height="1" fill="#fff" shape-rendering="crispEdges"/>
<polygon points="632.3,-3 632.3,9.8 634.9,8 637,12.8 638.8,12 636.8,7.2 640.2,6.6" fill="#484848"/>
<g shape-rendering="crispEdges" fill="#444"><rect x="664" y="0" width="1" height="6"/><rect x="664" y="7" width="1" height="7"/><rect x="657" y="6" width="7" height="1"/><rect x="665" y="6" width="7" height="1"/></g>
<rect x="681" y="0" width="1" height="16" fill="#a0a0a0" shape-rendering="crispEdges"/>
<rect x="698" y="0" width="1" height="13" fill="#444" shape-rendering="crispEdges"/>
<rect x="721" y="6" width="12" height="1" fill="#444" shape-rendering="crispEdges"/>
<line x1="748.8" y1="12.8" x2="761.2" y2="0.8" stroke="#444" stroke-width="1"/>
<g stroke="#444" stroke-width="0.9" fill="none"><line x1="775" y1="7.2" x2="784.5" y2="-1"/><line x1="776.8" y1="11.8" x2="788" y2="1"/><line x1="780" y1="12.8" x2="789.2" y2="4"/><line x1="777.4" y1="5.2" x2="779" y2="11.4"/><line x1="780.4" y1="2.8" x2="782" y2="9"/><line x1="783.4" y1="0.4" x2="785" y2="6.6"/><line x1="786.2" y1="-1" x2="787.6" y2="4"/></g>
<text x="785.6" y="14.9" font-size="6.6" font-weight="bold" fill="#333">E</text>
<g stroke="#444" stroke-width="1" stroke-dasharray="1,1" shape-rendering="crispEdges"><line x1="804" y1="2.5" x2="818" y2="2.5"/><line x1="804" y1="6.5" x2="818" y2="6.5"/><line x1="804" y1="10.5" x2="813" y2="10.5"/></g>
<text x="814" y="14.9" font-size="6.6" font-weight="bold" fill="#333">F</text>
<text x="834.4" y="11" font-size="12.4" fill="#4a4a4a">A</text>
<rect x="861.5" y="0.5" width="11" height="12" fill="none" stroke="#444" stroke-width="1" stroke-dasharray="1,1" shape-rendering="crispEdges"/>
<path d="M863.2,3.5h7.8v1.6h-3v5.4h-1.8v-5.4h-3z" fill="#444"/>
<polygon points="888,3.9 895.2,3.9 891.6,-0.4" fill="#444"/><rect x="889.6" y="3.9" width="4" height="1" fill="#444"/>
<polyline points="890,7.6 892.4,9.6 896.8,4.4" fill="none" stroke="#444" stroke-width="1.2"/>
<polygon points="895,9 902.4,9 898.7,12.8" fill="#444"/><rect x="896.7" y="8" width="4" height="1" fill="#444"/>
<polygon points="908.5,5 914.5,5 911.5,8.2" fill="#000"/>
<rect x="920" y="0" width="1" height="17" fill="#a0a0a0" shape-rendering="crispEdges"/>
<rect x="921" y="0" width="1" height="17" fill="#fff" shape-rendering="crispEdges"/>
<rect x="924" y="0" width="3" height="1" fill="#a8a8a8" shape-rendering="crispEdges"/>
<rect x="924" y="2" width="3" height="1" fill="#a8a8a8" shape-rendering="crispEdges"/>
<rect x="924" y="4" width="3" height="1" fill="#a8a8a8" shape-rendering="crispEdges"/>
<rect x="924" y="6" width="3" height="1" fill="#a8a8a8" shape-rendering="crispEdges"/>
<rect x="924" y="8" width="3" height="1" fill="#a8a8a8" shape-rendering="crispEdges"/>
<rect x="924" y="10" width="3" height="1" fill="#a8a8a8" shape-rendering="crispEdges"/>
<rect x="924" y="12" width="3" height="1" fill="#a8a8a8" shape-rendering="crispEdges"/>
<rect x="924" y="14" width="3" height="1" fill="#a8a8a8" shape-rendering="crispEdges"/>
<rect x="1070" y="0" width="1" height="16" fill="#a0a0a0" shape-rendering="crispEdges"/>
<rect x="1071" y="0" width="24" height="16" fill="url(#dith)" shape-rendering="crispEdges"/>
<rect x="1070" y="16" width="26" height="1" fill="#fff" shape-rendering="crispEdges"/>
<text x="941.8" y="9.7" font-size="9.2" fill="#444" text-anchor="middle">M1</text>
<text x="970" y="9.7" font-size="9.2" fill="#444" text-anchor="middle">M5</text>
<text x="998" y="9.7" font-size="9.2" fill="#444" text-anchor="middle">M15</text>
<text x="1026" y="9.7" font-size="9.2" fill="#444" text-anchor="middle">M30</text>
<text x="1054.5" y="9.7" font-size="9.2" fill="#444" text-anchor="middle">H1</text>
<text x="1082.3" y="9.7" font-size="9.2" fill="#444" text-anchor="middle">H4</text>
<text x="1110" y="9.7" font-size="9.2" fill="#444" text-anchor="middle">D1</text>
<text x="1139" y="9.7" font-size="9.2" fill="#444" text-anchor="middle">W1</text>
<text x="1166" y="9.7" font-size="9.2" fill="#444" text-anchor="middle">MN</text>
<rect x="1181" y="0" width="1" height="16" fill="#a0a0a0" shape-rendering="crispEdges"/>
<line x1="1648.6" y1="6.4" x2="1644" y2="10.6" stroke="#2a62d8" stroke-width="2.4" stroke-linecap="round"/>
<circle cx="1651.5" cy="3.2" r="3.9" fill="#fff" stroke="#2864e0" stroke-width="1.3"/>
<path d="M1668.5,8.2 a6,4.6 0 1 1 5.4,4.5 l-2.6,2 l0.4,-2.4 a6,4.6 0 0 1 -3.2,-4.1z" fill="#dcdce4" stroke="#b4b4b8" stroke-width="0.8"/>
<circle cx="1682.3" cy="3.6" r="8" fill="url(#redb)"/>
<text x="1681.6" y="7.8" font-size="11.5" font-family="Liberation Serif, serif" fill="#fff" text-anchor="middle" font-weight="bold">1</text>
</g>
<rect x="0" y="17" width="1696" height="1" fill="#dadada" shape-rendering="crispEdges"/>
<rect x="0" y="18" width="1696" height="1" fill="#a0a0a0" shape-rendering="crispEdges"/>
<rect x="0" y="19" width="1695" height="1" fill="#696969" shape-rendering="crispEdges"/>
</g>
</svg>
</body></html>
